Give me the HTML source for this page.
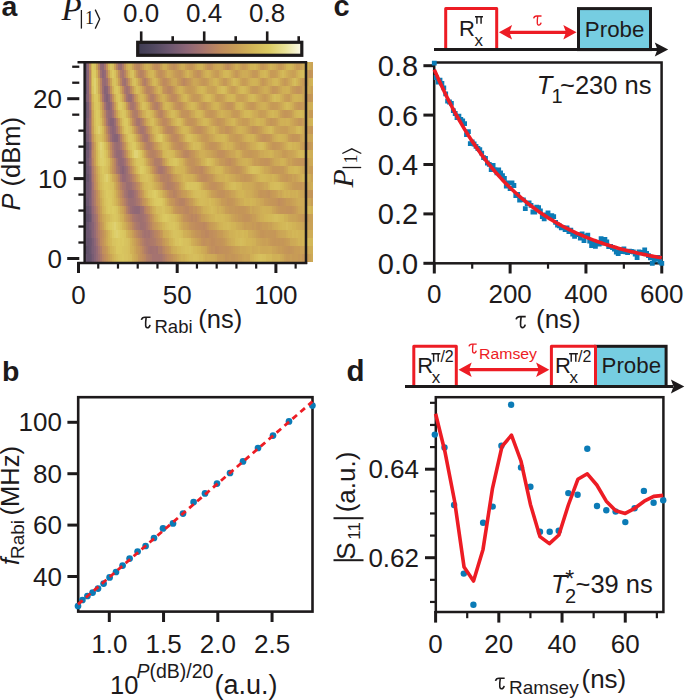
<!DOCTYPE html>
<html><head><meta charset="utf-8"><style>
html,body{margin:0;padding:0;background:#fff;}
svg{display:block;font-family:'Liberation Sans',sans-serif;fill:#1d1a1b;}
</style></head><body>
<svg width="685" height="700" viewBox="0 0 685 700" font-family="'Liberation Sans', sans-serif" fill="#1d1a1b">
<text x="1.50" y="15.50" font-size="28.5" font-weight="bold" >a</text>
<text x="61.50" y="19.80" font-size="33" font-family="'Liberation Serif', serif" font-style="italic" >P</text>
<line x1="81.40" y1="10.00" x2="81.40" y2="28.60" stroke="#1d1a1b" stroke-width="1.3" stroke-linecap="butt"/>
<text x="85.00" y="24.20" font-size="18" font-family="'Liberation Serif', serif" >1</text>
<polyline points="95.2,9.6 99.7,19.1 95.2,28.6" fill="none" stroke="#1d1a1b" stroke-width="1.3"/>
<text x="141.20" y="22.00" font-size="26" text-anchor="middle" >0.0</text>
<text x="204.20" y="22.00" font-size="26" text-anchor="middle" >0.4</text>
<text x="267.20" y="22.00" font-size="26" text-anchor="middle" >0.8</text>
<defs><linearGradient id="cbg" x1="0" x2="1" y1="0" y2="0"><stop offset="0.00" stop-color="#3e3b52"/><stop offset="0.10" stop-color="#524961"/><stop offset="0.20" stop-color="#6e5871"/><stop offset="0.30" stop-color="#8d6677"/><stop offset="0.40" stop-color="#a8756e"/><stop offset="0.50" stop-color="#bf8a5d"/><stop offset="0.60" stop-color="#c89d56"/><stop offset="0.70" stop-color="#d2b557"/><stop offset="0.80" stop-color="#dbca62"/><stop offset="0.90" stop-color="#e9e298"/><stop offset="1.00" stop-color="#fbf9ec"/></linearGradient></defs>
<rect x="137.7" y="42.3" width="164.1" height="13" fill="url(#cbg)" stroke="#1d1a1b" stroke-width="3.2"/>
<line x1="141.20" y1="31.40" x2="141.20" y2="41.00" stroke="#1d1a1b" stroke-width="2.6" stroke-linecap="butt"/>
<line x1="172.70" y1="36.20" x2="172.70" y2="41.00" stroke="#1d1a1b" stroke-width="2.6" stroke-linecap="butt"/>
<line x1="204.20" y1="31.40" x2="204.20" y2="41.00" stroke="#1d1a1b" stroke-width="2.6" stroke-linecap="butt"/>
<line x1="235.70" y1="36.20" x2="235.70" y2="41.00" stroke="#1d1a1b" stroke-width="2.6" stroke-linecap="butt"/>
<line x1="267.20" y1="31.40" x2="267.20" y2="41.00" stroke="#1d1a1b" stroke-width="2.6" stroke-linecap="butt"/>
<line x1="298.70" y1="36.20" x2="298.70" y2="41.00" stroke="#1d1a1b" stroke-width="2.6" stroke-linecap="butt"/>
<defs><filter id="hb" x="-2%" y="-2%" width="104%" height="104%"><feGaussianBlur stdDeviation="0.75"/></filter><clipPath id="hc"><rect x="84.6" y="62" width="228.80" height="201"/></clipPath></defs>
<g clip-path="url(#hc)"><g filter="url(#hb)" shape-rendering="crispEdges"><path d="M85 214h2v8h-2z" fill="#5d4f67"/><path d="M85 142h2v8h-2z" fill="#5e5068"/><path d="M85 246h2v8h-2z" fill="#5f5069"/><path d="M85 102h2v8h-2zM85 206h2v8h-2zM87 214h2v8h-2z" fill="#62516a"/><path d="M87 246h2v8h-2z" fill="#63526b"/><path d="M85 222h2v8h-2z" fill="#64536b"/><path d="M85 110h2v8h-2zM87 254h2v8h-2z" fill="#65536c"/><path d="M87 142h2v8h-2zM85 166h2v8h-2zM85 174h2v8h-2zM87 206h2v8h-2zM87 238h2v8h-2zM89 254h2v8h-2z" fill="#66546d"/><path d="M87 174h2v8h-2z" fill="#67546d"/><path d="M85 70h2v8h-2zM85 86h2v8h-2zM85 238h2v8h-2zM85 254h2v8h-2z" fill="#68556e"/><path d="M85 78h2v8h-2zM85 230h2v8h-2zM89 246h2v8h-2z" fill="#6a566e"/><path d="M85 62h2v8h-2zM85 158h2v8h-2zM85 182h2v8h-2zM85 198h2v8h-2zM89 214h2v8h-2zM87 222h2v8h-2z" fill="#6b566f"/><path d="M85 134h2v8h-2zM85 150h2v8h-2zM87 230h2v8h-2zM89 238h2v8h-2z" fill="#6c5770"/><path d="M85 118h2v8h-2zM91 254h1v8h-1z" fill="#6d5770"/><path d="M87 182h2v8h-2zM87 198h2v8h-2z" fill="#6e5871"/><path d="M85 190h2v8h-2zM89 230h2v8h-2z" fill="#6f5971"/><path d="M87 150h2v8h-2zM87 166h2v8h-2zM91 238h1v8h-1z" fill="#705971"/><path d="M85 126h2v8h-2zM87 190h2v8h-2zM89 206h2v8h-2z" fill="#725a72"/><path d="M91 246h1v8h-1z" fill="#735a72"/><path d="M85 94h2v8h-2zM87 158h2v8h-2z" fill="#745b72"/><path d="M89 222h2v8h-2z" fill="#775c73"/><path d="M92 254h2v8h-2z" fill="#785c73"/><path d="M87 102h2v8h-2zM87 134h2v8h-2zM89 174h2v8h-2zM89 182h2v8h-2zM91 214h1v8h-1z" fill="#795d73"/><path d="M87 110h2v8h-2zM89 190h2v8h-2zM91 230h1v8h-1z" fill="#7a5e73"/><path d="M92 246h2v8h-2z" fill="#7c5e74"/><path d="M92 238h2v8h-2z" fill="#7d5f74"/><path d="M87 126h2v8h-2zM89 166h2v8h-2zM89 198h2v8h-2z" fill="#7e5f74"/><path d="M91 222h1v8h-1z" fill="#7f6074"/><path d="M87 118h2v8h-2z" fill="#816075"/><path d="M106 94h2v8h-2zM89 142h2v8h-2z" fill="#826175"/><path d="M91 206h1v8h-1z" fill="#836275"/><path d="M104 86h2v8h-2zM110 118h2v8h-2zM114 134h2v8h-2zM94 254h2v8h-2z" fill="#866376"/><path d="M108 102h2v8h-2zM116 134h2v8h-2zM92 230h2v8h-2zM94 246h2v8h-2z" fill="#876376"/><path d="M87 70h2v8h-2zM87 86h2v8h-2zM87 94h2v8h-2zM112 118h2v8h-2zM89 150h2v8h-2zM92 222h2v8h-2z" fill="#886476"/><path d="M87 78h2v8h-2zM122 166h2v8h-2z" fill="#896476"/><path d="M106 86h2v8h-2zM91 182h1v8h-1zM91 198h1v8h-1z" fill="#8b6577"/><path d="M112 126h2v8h-2z" fill="#8c6577"/><path d="M102 70h2v8h-2zM104 94h2v8h-2zM106 102h2v8h-2zM112 134h2v8h-2zM89 158h2v8h-2zM91 190h1v8h-1zM94 238h2v8h-2z" fill="#8d6677"/><path d="M108 94h2v8h-2z" fill="#8e6777"/><path d="M102 62h2v8h-2zM136 206h2v8h-2zM92 214h2v8h-2z" fill="#8f6776"/><path d="M87 62h2v8h-2z" fill="#906876"/><path d="M120 166h2v8h-2zM134 206h2v8h-2zM138 206h2v8h-2z" fill="#916876"/><path d="M100 62h2v8h-2zM108 118h2v8h-2zM114 126h2v8h-2zM120 158h2v8h-2zM91 174h1v8h-1zM130 190h2v8h-2z" fill="#926975"/><path d="M110 110h2v8h-2zM89 134h2v8h-2zM118 150h2v8h-2zM124 166h2v8h-2zM128 190h2v8h-2zM96 254h2v8h-2z" fill="#936a75"/><path d="M104 78h2v8h-2zM108 110h2v8h-2zM110 126h2v8h-2zM116 150h2v8h-2zM132 206h2v8h-2zM94 230h2v8h-2zM96 246h2v8h-2z" fill="#956a74"/><path d="M104 70h2v8h-2zM110 102h2v8h-2zM118 158h2v8h-2zM122 158h2v8h-2z" fill="#966b74"/><path d="M120 150h2v8h-2zM91 166h1v8h-1zM122 174h2v8h-2zM124 174h2v8h-2zM132 190h2v8h-2zM92 206h2v8h-2z" fill="#976b74"/><path d="M116 142h2v8h-2z" fill="#986c73"/><path d="M102 78h2v8h-2zM128 94h2v8h-2zM130 94h2v8h-2zM94 222h2v8h-2z" fill="#996d73"/><path d="M89 110h2v8h-2zM114 118h2v8h-2zM89 126h2v8h-2zM118 134h2v8h-2z" fill="#9a6d73"/><path d="M120 62h2v8h-2zM118 142h2v8h-2zM126 182h2v8h-2zM128 182h2v8h-2zM130 198h2v8h-2zM132 198h2v8h-2zM130 206h2v8h-2z" fill="#9b6e72"/><path d="M102 86h2v8h-2z" fill="#9c6e72"/><path d="M106 110h2v8h-2zM114 142h2v8h-2zM126 174h2v8h-2zM128 198h2v8h-2zM140 206h2v8h-2zM94 214h2v8h-2z" fill="#9d6f72"/><path d="M118 62h2v8h-2zM124 78h2v8h-2zM89 118h2v8h-2zM110 134h2v8h-2zM118 166h2v8h-2zM126 166h2v8h-2zM140 214h2v8h-2zM140 222h2v8h-2zM96 238h2v8h-2z" fill="#9e7071"/><path d="M100 70h2v8h-2zM91 142h1v8h-1zM130 182h2v8h-2zM126 190h2v8h-2zM92 198h2v8h-2zM134 198h2v8h-2zM138 214h2v8h-2zM142 222h2v8h-2z" fill="#9f7071"/><path d="M106 78h2v8h-2zM126 86h2v8h-2zM114 150h2v8h-2zM92 190h2v8h-2zM98 254h2v8h-2z" fill="#a07171"/><path d="M91 158h1v8h-1zM124 158h2v8h-2zM134 190h2v8h-2zM142 214h2v8h-2zM144 222h2v8h-2zM144 230h2v8h-2zM148 230h2v8h-2zM150 246h2v8h-2z" fill="#a27170"/><path d="M89 102h2v8h-2zM112 110h2v8h-2zM142 206h2v8h-2zM136 214h2v8h-2zM152 246h2v8h-2zM156 246h2v8h-2z" fill="#a37270"/><path d="M122 78h2v8h-2zM126 94h2v8h-2zM116 158h2v8h-2zM120 174h2v8h-2zM128 174h2v8h-2zM146 230h2v8h-2z" fill="#a4736f"/><path d="M104 102h2v8h-2zM138 118h2v8h-2zM122 150h2v8h-2zM148 246h2v8h-2zM154 246h2v8h-2zM152 254h2v8h-2zM154 254h2v8h-2zM156 254h2v8h-2zM158 254h2v8h-2z" fill="#a5736f"/><path d="M108 86h2v8h-2zM106 118h2v8h-2zM142 126h2v8h-2zM120 142h2v8h-2zM91 150h1v8h-1zM92 182h2v8h-2zM124 182h2v8h-2zM124 190h2v8h-2zM134 214h2v8h-2zM144 214h2v8h-2zM138 222h2v8h-2zM98 246h2v8h-2zM160 254h2v8h-2z" fill="#a6746f"/><path d="M132 102h2v8h-2zM136 118h2v8h-2zM108 126h2v8h-2zM116 126h2v8h-2zM140 126h2v8h-2zM136 198h2v8h-2zM94 206h2v8h-2zM96 230h2v8h-2zM142 230h2v8h-2z" fill="#a7746e"/><path d="M122 70h2v8h-2zM102 94h2v8h-2zM160 166h2v8h-2zM128 206h2v8h-2zM146 238h2v8h-2z" fill="#a8756e"/><path d="M104 62h2v8h-2zM128 86h2v8h-2zM130 102h2v8h-2zM144 134h2v8h-2zM116 166h2v8h-2zM162 166h1v8h-1zM126 198h2v8h-2zM96 222h2v8h-2zM148 238h2v8h-2z" fill="#a9766d"/><path d="M124 86h2v8h-2zM110 94h2v8h-2zM146 134h2v8h-2zM158 166h2v8h-2zM132 182h2v8h-2zM136 222h2v8h-2zM146 222h2v8h-2zM150 230h2v8h-2z" fill="#aa776d"/><path d="M112 142h2v8h-2zM122 182h2v8h-2zM136 190h2v8h-2zM150 254h2v8h-2zM162 254h1v8h-1z" fill="#ab786c"/><path d="M132 94h2v8h-2zM96 214h2v8h-2zM132 214h2v8h-2zM144 238h2v8h-2zM150 238h2v8h-2zM146 246h2v8h-2zM100 254h2v8h-2z" fill="#ac786b"/><path d="M92 174h2v8h-2zM130 174h2v8h-2zM138 198h2v8h-2zM152 238h2v8h-2z" fill="#ad796b"/><path d="M120 70h2v8h-2zM89 94h2v8h-2zM144 126h2v8h-2zM146 214h2v8h-2z" fill="#ae7a6a"/><path d="M134 110h2v8h-2zM140 118h2v8h-2zM163 166h2v8h-2zM140 230h2v8h-2zM98 238h2v8h-2zM158 246h2v8h-2zM148 254h2v8h-2z" fill="#ae7b69"/><path d="M122 62h2v8h-2zM126 78h2v8h-2zM138 126h2v8h-2zM142 134h2v8h-2zM128 166h2v8h-2zM94 198h2v8h-2zM152 230h2v8h-2zM154 238h2v8h-2zM160 246h2v8h-2zM163 254h2v8h-2z" fill="#af7c69"/><path d="M91 134h1v8h-1zM148 142h2v8h-2zM112 150h2v8h-2zM156 158h2v8h-2zM92 166h2v8h-2zM134 222h2v8h-2z" fill="#b07d68"/><path d="M144 78h2v8h-2zM112 102h2v8h-2zM134 102h2v8h-2zM136 110h2v8h-2zM154 158h2v8h-2zM158 158h2v8h-2zM134 182h2v8h-2zM94 190h2v8h-2z" fill="#b17d67"/><path d="M156 102h2v8h-2zM126 158h2v8h-2zM167 182h2v8h-2zM148 222h2v8h-2zM142 238h2v8h-2zM100 246h2v8h-2zM144 246h2v8h-2zM146 254h2v8h-2z" fill="#b27e67"/><path d="M98 62h2v8h-2zM152 94h2v8h-2zM108 134h2v8h-2zM120 134h2v8h-2zM146 142h2v8h-2zM156 166h2v8h-2zM169 182h2v8h-2zM98 230h2v8h-2z" fill="#b37f66"/><path d="M150 94h2v8h-2zM132 110h2v8h-2zM116 118h2v8h-2zM134 118h2v8h-2zM150 142h2v8h-2zM163 174h2v8h-2zM167 174h2v8h-2zM122 190h2v8h-2zM124 198h2v8h-2zM126 206h2v8h-2zM144 206h2v8h-2zM138 230h2v8h-2z" fill="#b48065"/><path d="M154 102h2v8h-2zM124 150h2v8h-2zM152 150h2v8h-2zM171 182h2v8h-2z" fill="#b58164"/><path d="M116 62h2v8h-2zM106 70h2v8h-2zM124 70h2v8h-2zM140 70h2v8h-2zM160 158h2v8h-2zM165 166h2v8h-2zM162 174h1v8h-1zM165 174h2v8h-2zM120 182h2v8h-2zM165 182h2v8h-2zM140 198h2v8h-2zM181 198h2v8h-2zM130 214h2v8h-2zM156 238h2v8h-2zM162 246h1v8h-1z" fill="#b68264"/><path d="M89 86h2v8h-2zM128 102h2v8h-2zM150 150h2v8h-2zM118 174h2v8h-2zM173 190h2v8h-2zM179 198h2v8h-2zM96 206h2v8h-2zM148 214h2v8h-2zM154 230h2v8h-2zM165 254h2v8h-2z" fill="#b78263"/><path d="M89 70h2v8h-2zM142 78h2v8h-2zM160 110h2v8h-2zM148 134h2v8h-2zM122 142h2v8h-2zM154 150h2v8h-2zM160 174h2v8h-2zM183 198h2v8h-2z" fill="#b88362"/><path d="M89 78h2v8h-2zM100 78h2v8h-2zM148 86h2v8h-2zM104 110h2v8h-2zM114 158h2v8h-2zM132 174h2v8h-2zM169 174h2v8h-2zM173 182h2v8h-2zM138 190h2v8h-2zM102 254h2v8h-2z" fill="#b98462"/><path d="M138 62h2v8h-2zM142 70h2v8h-2zM120 78h2v8h-2zM146 86h2v8h-2zM142 118h2v8h-2zM175 190h2v8h-2zM98 222h2v8h-2zM132 222h2v8h-2zM150 222h2v8h-2zM140 238h2v8h-2z" fill="#b98561"/><path d="M136 62h2v8h-2zM169 86h2v8h-2zM158 102h2v8h-2zM162 110h1v8h-1zM106 126h2v8h-2zM118 126h2v8h-2zM167 126h2v8h-2zM169 126h2v8h-2zM171 126h2v8h-2zM185 150h2v8h-2zM92 158h2v8h-2zM114 166h2v8h-2zM191 214h2v8h-2zM156 230h2v8h-2zM158 238h2v8h-2zM142 246h2v8h-2z" fill="#ba8660"/><path d="M146 78h2v8h-2zM183 78h2v8h-2zM100 86h2v8h-2zM124 94h2v8h-2zM114 110h2v8h-2zM91 126h1v8h-1zM146 126h2v8h-2zM140 134h2v8h-2zM144 142h2v8h-2zM148 150h2v8h-2zM187 150h2v8h-2zM152 158h2v8h-2zM136 182h2v8h-2zM177 198h2v8h-2zM185 206h2v8h-2zM187 206h2v8h-2zM195 214h2v8h-2zM136 230h2v8h-2zM163 246h2v8h-2zM144 254h2v8h-2z" fill="#bb8760"/><path d="M130 86h2v8h-2zM167 86h2v8h-2zM154 94h2v8h-2zM152 102h2v8h-2zM158 110h2v8h-2zM91 118h1v8h-1zM136 126h2v8h-2zM92 142h2v8h-2zM152 142h2v8h-2zM163 182h2v8h-2zM203 222h2v8h-2zM205 230h2v8h-2z" fill="#bc875f"/><path d="M138 70h2v8h-2zM108 78h2v8h-2zM150 86h2v8h-2zM91 110h1v8h-1zM163 118h2v8h-2zM175 134h2v8h-2zM110 142h2v8h-2zM183 150h2v8h-2zM130 166h2v8h-2zM154 166h2v8h-2zM201 166h2v8h-2zM171 190h2v8h-2zM100 230h2v8h-2zM207 230h2v8h-2zM167 254h2v8h-2z" fill="#bd885e"/><path d="M163 78h2v8h-2zM148 94h2v8h-2zM165 118h2v8h-2zM173 134h2v8h-2zM179 142h2v8h-2zM156 150h2v8h-2zM199 166h2v8h-2zM94 182h2v8h-2zM169 190h2v8h-2zM122 198h2v8h-2zM175 198h2v8h-2zM146 206h2v8h-2zM183 206h2v8h-2zM189 214h2v8h-2zM193 214h2v8h-2zM199 222h2v8h-2zM201 222h2v8h-2zM100 238h2v8h-2zM160 238h2v8h-2z" fill="#be895e"/><path d="M173 94h2v8h-2zM162 118h1v8h-1zM94 174h2v8h-2zM185 198h2v8h-2zM128 214h2v8h-2zM197 222h2v8h-2z" fill="#bf8a5d"/><path d="M156 62h2v8h-2zM165 78h2v8h-2zM122 86h2v8h-2zM171 86h2v8h-2zM171 94h2v8h-2zM132 118h2v8h-2zM165 126h2v8h-2zM181 142h2v8h-2zM92 150h2v8h-2zM195 166h2v8h-2zM203 174h2v8h-2zM205 174h2v8h-2zM175 182h2v8h-2zM120 190h2v8h-2zM177 190h2v8h-2zM195 222h2v8h-2zM205 222h2v8h-2zM201 230h2v8h-2zM203 230h2v8h-2zM215 246h2v8h-2z" fill="#bf8b5d"/><path d="M185 78h2v8h-2zM175 94h2v8h-2zM138 110h2v8h-2zM104 118h2v8h-2zM177 134h2v8h-2zM177 142h2v8h-2zM197 166h2v8h-2zM171 174h2v8h-2zM201 174h2v8h-2zM189 206h2v8h-2zM169 254h2v8h-2z" fill="#c08c5c"/><path d="M136 102h2v8h-2zM179 102h2v8h-2zM128 158h2v8h-2zM229 158h2v8h-2zM167 166h2v8h-2zM96 190h2v8h-2zM96 198h2v8h-2zM191 206h2v8h-2zM98 214h2v8h-2zM150 214h2v8h-2zM187 214h2v8h-2zM158 230h2v8h-2zM211 238h2v8h-2zM217 246h2v8h-2zM104 254h2v8h-2zM142 254h2v8h-2z" fill="#c08c5c"/><path d="M89 62h2v8h-2zM227 62h2v8h-2zM181 78h2v8h-2zM134 94h2v8h-2zM102 102h2v8h-2zM173 126h2v8h-2zM171 134h2v8h-2zM189 150h2v8h-2zM278 198h2v8h-2zM179 206h2v8h-2zM181 206h2v8h-2zM197 214h2v8h-2zM209 230h2v8h-2zM211 230h2v8h-2zM213 238h2v8h-2zM102 246h2v8h-2z" fill="#c08d5c"/><path d="M134 62h2v8h-2zM154 62h2v8h-2zM173 62h2v8h-2zM98 70h2v8h-2zM160 70h2v8h-2zM162 78h1v8h-1zM165 86h2v8h-2zM199 126h2v8h-2zM110 150h2v8h-2zM150 158h2v8h-2zM134 174h2v8h-2zM193 222h2v8h-2zM138 238h2v8h-2z" fill="#c18e5c"/><path d="M118 70h2v8h-2zM130 110h2v8h-2zM175 142h2v8h-2zM162 158h1v8h-1zM94 166h2v8h-2zM193 166h2v8h-2zM118 182h2v8h-2zM138 182h2v8h-2zM142 198h2v8h-2zM165 246h2v8h-2zM211 246h2v8h-2zM219 246h2v8h-2z" fill="#c18f5b"/><path d="M197 70h2v8h-2zM177 102h2v8h-2zM197 126h2v8h-2zM219 150h2v8h-2zM221 150h2v8h-2zM227 158h2v8h-2zM158 174h2v8h-2zM207 174h2v8h-2zM213 182h2v8h-2zM140 190h2v8h-2zM179 190h2v8h-2zM187 198h2v8h-2zM134 230h2v8h-2zM203 238h2v8h-2zM209 238h2v8h-2zM140 246h2v8h-2zM221 246h2v8h-2z" fill="#c28f5b"/><path d="M158 62h2v8h-2zM209 62h2v8h-2zM144 70h2v8h-2zM128 78h2v8h-2zM110 86h2v8h-2zM144 86h2v8h-2zM152 86h2v8h-2zM163 110h2v8h-2zM181 150h2v8h-2zM191 158h2v8h-2zM203 166h2v8h-2zM199 174h2v8h-2zM162 182h1v8h-1zM177 182h2v8h-2zM211 182h2v8h-2zM221 190h2v8h-2zM280 198h2v8h-2zM185 214h2v8h-2zM152 222h2v8h-2zM191 222h2v8h-2zM213 230h2v8h-2zM215 238h2v8h-2zM213 246h2v8h-2z" fill="#c2905b"/><path d="M140 62h2v8h-2zM158 70h2v8h-2zM112 94h2v8h-2zM181 102h2v8h-2zM167 118h2v8h-2zM252 126h2v8h-2zM264 134h2v8h-2zM146 150h2v8h-2zM217 150h2v8h-2zM223 150h2v8h-2zM189 158h2v8h-2zM193 158h2v8h-2zM225 158h2v8h-2zM191 166h2v8h-2zM236 166h2v8h-2zM215 182h2v8h-2zM219 190h2v8h-2zM223 190h2v8h-2zM268 190h2v8h-2zM148 206h2v8h-2zM177 206h2v8h-2zM290 206h2v8h-2zM130 222h2v8h-2zM102 230h2v8h-2zM199 230h2v8h-2zM205 238h2v8h-2zM223 246h2v8h-2zM225 246h2v8h-2zM171 254h2v8h-2z" fill="#c2915a"/><path d="M169 94h2v8h-2zM91 102h1v8h-1zM203 102h2v8h-2zM156 110h2v8h-2zM183 110h2v8h-2zM185 110h2v8h-2zM160 118h2v8h-2zM189 118h2v8h-2zM191 118h2v8h-2zM195 126h2v8h-2zM201 126h2v8h-2zM225 126h2v8h-2zM254 126h2v8h-2zM106 134h2v8h-2zM262 134h2v8h-2zM124 142h2v8h-2zM211 142h2v8h-2zM231 158h2v8h-2zM266 158h2v8h-2zM167 190h2v8h-2zM173 198h2v8h-2zM276 198h2v8h-2zM282 198h2v8h-2zM286 206h2v8h-2zM288 206h2v8h-2zM246 214h2v8h-2zM207 222h2v8h-2zM197 230h2v8h-2zM162 238h1v8h-1zM207 238h2v8h-2zM219 238h2v8h-2zM104 246h2v8h-2zM140 254h2v8h-2z" fill="#c3925a"/><path d="M162 70h1v8h-1zM179 70h2v8h-2zM167 78h2v8h-2zM187 78h2v8h-2zM163 86h2v8h-2zM298 86h2v8h-2zM160 102h2v8h-2zM187 110h2v8h-2zM227 126h2v8h-2zM183 142h2v8h-2zM158 150h2v8h-2zM191 150h2v8h-2zM264 158h2v8h-2zM112 166h2v8h-2zM235 166h1v8h-1zM116 174h2v8h-2zM209 182h2v8h-2zM98 206h2v8h-2zM124 206h2v8h-2zM195 206h2v8h-2zM199 214h2v8h-2zM244 214h2v8h-2zM100 222h2v8h-2zM215 230h2v8h-2zM102 238h2v8h-2zM217 238h2v8h-2zM227 246h2v8h-2z" fill="#c3925a"/><path d="M106 62h2v8h-2zM171 62h2v8h-2zM175 62h2v8h-2zM207 62h2v8h-2zM225 62h2v8h-2zM229 62h2v8h-2zM199 70h2v8h-2zM309 70h2v8h-2zM296 86h2v8h-2zM175 102h2v8h-2zM227 102h2v8h-2zM229 102h2v8h-2zM181 110h2v8h-2zM217 118h2v8h-2zM150 134h2v8h-2zM209 142h2v8h-2zM213 142h2v8h-2zM307 142h2v8h-2zM126 150h2v8h-2zM112 158h2v8h-2zM238 166h2v8h-2zM209 174h2v8h-2zM217 190h2v8h-2zM266 190h2v8h-2zM227 198h2v8h-2zM193 206h2v8h-2zM126 214h2v8h-2zM183 214h2v8h-2zM248 214h2v8h-2zM189 222h2v8h-2zM201 238h2v8h-2zM209 246h2v8h-2zM288 246h2v8h-2zM225 254h2v8h-2z" fill="#c3935a"/><path d="M124 62h2v8h-2zM189 62h2v8h-2zM140 78h2v8h-2zM100 94h2v8h-2zM156 94h2v8h-2zM284 110h2v8h-2zM187 118h2v8h-2zM256 126h2v8h-2zM266 134h2v8h-2zM292 134h2v8h-2zM154 142h2v8h-2zM173 142h2v8h-2zM306 142h1v8h-1zM260 158h2v8h-2zM262 158h2v8h-2zM268 158h2v8h-2zM302 158h2v8h-2zM152 166h2v8h-2zM233 166h2v8h-2zM260 190h2v8h-2zM120 198h2v8h-2zM229 198h2v8h-2zM274 198h2v8h-2zM238 206h2v8h-2zM282 206h2v8h-2zM284 206h2v8h-2zM292 206h2v8h-2zM242 214h2v8h-2zM262 230h2v8h-2zM221 238h2v8h-2zM167 246h2v8h-2zM106 254h2v8h-2z" fill="#c49459"/><path d="M211 62h2v8h-2zM195 70h2v8h-2zM148 78h2v8h-2zM160 78h2v8h-2zM203 78h2v8h-2zM272 86h2v8h-2zM309 94h2v8h-2zM211 110h2v8h-2zM193 118h2v8h-2zM219 118h2v8h-2zM270 118h2v8h-2zM148 126h2v8h-2zM122 134h2v8h-2zM268 134h2v8h-2zM294 134h2v8h-2zM296 134h2v8h-2zM187 158h2v8h-2zM233 158h2v8h-2zM298 158h2v8h-2zM300 158h2v8h-2zM211 174h2v8h-2zM217 182h2v8h-2zM262 190h2v8h-2zM311 190h2v8h-2zM171 198h2v8h-2zM272 198h2v8h-2zM284 198h2v8h-2zM240 206h2v8h-2zM278 238h2v8h-2zM229 246h2v8h-2zM286 246h2v8h-2zM227 254h2v8h-2z" fill="#c49559"/><path d="M191 62h2v8h-2zM177 70h2v8h-2zM179 78h2v8h-2zM150 102h2v8h-2zM231 102h2v8h-2zM298 102h2v8h-2zM209 110h2v8h-2zM286 110h2v8h-2zM118 118h2v8h-2zM144 118h2v8h-2zM298 118h2v8h-2zM163 126h2v8h-2zM142 142h2v8h-2zM215 142h2v8h-2zM240 142h2v8h-2zM272 142h2v8h-2zM274 142h2v8h-2zM304 158h2v8h-2zM169 166h2v8h-2zM244 174h2v8h-2zM264 190h2v8h-2zM231 198h2v8h-2zM175 206h2v8h-2zM235 206h1v8h-1zM242 206h2v8h-2zM280 206h2v8h-2zM258 222h2v8h-2zM195 230h2v8h-2zM260 230h2v8h-2zM274 238h2v8h-2zM290 246h2v8h-2zM231 254h2v8h-2zM233 254h2v8h-2z" fill="#c49559"/><path d="M262 62h2v8h-2zM163 70h2v8h-2zM262 78h2v8h-2zM173 86h2v8h-2zM274 86h2v8h-2zM307 94h2v8h-2zM252 102h2v8h-2zM300 118h2v8h-2zM92 134h2v8h-2zM138 134h2v8h-2zM169 134h2v8h-2zM179 134h2v8h-2zM260 134h2v8h-2zM193 150h2v8h-2zM296 158h2v8h-2zM231 166h2v8h-2zM272 166h2v8h-2zM274 166h2v8h-2zM276 166h2v8h-2zM278 166h2v8h-2zM286 174h2v8h-2zM181 190h2v8h-2zM225 190h2v8h-2zM270 198h2v8h-2zM236 206h2v8h-2zM244 206h2v8h-2zM256 222h2v8h-2zM160 230h2v8h-2zM264 230h2v8h-2zM274 230h2v8h-2zM136 238h2v8h-2zM163 238h2v8h-2zM272 238h2v8h-2zM276 238h2v8h-2zM282 238h2v8h-2zM284 246h2v8h-2zM302 254h2v8h-2z" fill="#c59659"/><path d="M152 62h2v8h-2zM169 62h2v8h-2zM136 70h2v8h-2zM236 70h2v8h-2zM254 70h2v8h-2zM311 70h2v8h-2zM189 78h2v8h-2zM223 78h2v8h-2zM300 86h2v8h-2zM193 94h2v8h-2zM126 102h2v8h-2zM201 102h2v8h-2zM205 102h2v8h-2zM225 102h2v8h-2zM250 102h2v8h-2zM175 126h2v8h-2zM193 126h2v8h-2zM229 126h2v8h-2zM311 126h2v8h-2zM205 134h2v8h-2zM242 142h2v8h-2zM244 142h2v8h-2zM276 142h2v8h-2zM225 150h2v8h-2zM250 150h2v8h-2zM163 158h2v8h-2zM195 158h2v8h-2zM223 158h2v8h-2zM189 166h2v8h-2zM205 166h2v8h-2zM240 166h2v8h-2zM156 174h2v8h-2zM173 174h2v8h-2zM197 174h2v8h-2zM246 174h2v8h-2zM300 182h2v8h-2zM227 190h2v8h-2zM270 190h2v8h-2zM309 190h2v8h-2zM98 198h2v8h-2zM144 198h2v8h-2zM278 206h2v8h-2zM250 214h2v8h-2zM302 214h2v8h-2zM154 222h2v8h-2zM268 230h2v8h-2zM270 230h2v8h-2zM272 230h2v8h-2zM223 238h2v8h-2zM280 238h2v8h-2zM138 246h2v8h-2zM292 246h2v8h-2zM138 254h2v8h-2zM229 254h2v8h-2zM304 254h2v8h-2z" fill="#c59758"/><path d="M175 70h2v8h-2zM181 70h2v8h-2zM235 70h1v8h-1zM252 70h2v8h-2zM201 78h2v8h-2zM205 78h2v8h-2zM225 78h2v8h-2zM284 78h2v8h-2zM252 86h2v8h-2zM254 86h2v8h-2zM294 86h2v8h-2zM177 94h2v8h-2zM195 94h2v8h-2zM197 94h2v8h-2zM140 110h2v8h-2zM282 110h2v8h-2zM288 110h2v8h-2zM272 118h2v8h-2zM134 126h2v8h-2zM221 126h2v8h-2zM298 134h2v8h-2zM185 142h2v8h-2zM309 142h2v8h-2zM215 150h2v8h-2zM248 150h2v8h-2zM221 158h2v8h-2zM294 158h2v8h-2zM280 166h2v8h-2zM282 166h2v8h-2zM160 182h2v8h-2zM219 182h2v8h-2zM296 182h2v8h-2zM118 190h2v8h-2zM258 190h2v8h-2zM307 190h2v8h-2zM189 198h2v8h-2zM225 198h2v8h-2zM268 198h2v8h-2zM229 206h2v8h-2zM231 206h2v8h-2zM233 206h2v8h-2zM238 214h2v8h-2zM240 214h2v8h-2zM217 230h2v8h-2zM266 230h2v8h-2zM235 254h1v8h-1zM306 254h1v8h-1z" fill="#c59858"/><path d="M187 62h2v8h-2zM242 62h2v8h-2zM126 70h2v8h-2zM304 78h2v8h-2zM306 78h1v8h-1zM256 86h2v8h-2zM146 94h2v8h-2zM306 94h1v8h-1zM114 102h2v8h-2zM300 102h2v8h-2zM207 110h2v8h-2zM213 110h2v8h-2zM233 110h2v8h-2zM236 110h2v8h-2zM215 118h2v8h-2zM221 118h2v8h-2zM203 126h2v8h-2zM250 126h2v8h-2zM203 134h2v8h-2zM236 134h2v8h-2zM290 134h2v8h-2zM278 142h2v8h-2zM179 150h2v8h-2zM132 166h2v8h-2zM242 174h2v8h-2zM248 174h2v8h-2zM284 174h2v8h-2zM207 182h2v8h-2zM298 182h2v8h-2zM215 190h2v8h-2zM233 198h2v8h-2zM294 206h2v8h-2zM152 214h2v8h-2zM128 222h2v8h-2zM252 222h2v8h-2zM260 222h2v8h-2zM270 238h2v8h-2zM231 246h2v8h-2zM173 254h2v8h-2zM236 254h2v8h-2zM298 254h2v8h-2z" fill="#c69858"/><path d="M260 62h2v8h-2zM280 62h2v8h-2zM193 70h2v8h-2zM256 70h2v8h-2zM189 86h2v8h-2zM276 86h2v8h-2zM91 94h1v8h-1zM217 94h2v8h-2zM264 94h2v8h-2zM311 94h2v8h-2zM272 102h2v8h-2zM296 102h2v8h-2zM102 110h2v8h-2zM235 110h1v8h-1zM169 118h2v8h-2zM274 118h2v8h-2zM223 126h2v8h-2zM235 134h1v8h-1zM207 142h2v8h-2zM304 142h2v8h-2zM252 150h2v8h-2zM284 150h2v8h-2zM235 158h1v8h-1zM258 158h2v8h-2zM240 174h2v8h-2zM96 182h2v8h-2zM294 182h2v8h-2zM100 214h2v8h-2zM209 222h2v8h-2zM284 238h2v8h-2zM207 246h2v8h-2zM282 246h2v8h-2zM223 254h2v8h-2z" fill="#c69957"/><path d="M244 62h2v8h-2zM278 62h2v8h-2zM296 62h2v8h-2zM298 62h2v8h-2zM156 70h2v8h-2zM217 70h2v8h-2zM270 70h2v8h-2zM272 70h2v8h-2zM169 78h2v8h-2zM288 94h2v8h-2zM274 102h2v8h-2zM302 102h2v8h-2zM195 118h2v8h-2zM242 118h2v8h-2zM120 126h2v8h-2zM258 126h2v8h-2zM309 126h2v8h-2zM207 134h2v8h-2zM270 134h2v8h-2zM160 150h2v8h-2zM246 150h2v8h-2zM282 150h2v8h-2zM148 158h2v8h-2zM282 174h2v8h-2zM221 182h2v8h-2zM302 182h2v8h-2zM272 190h2v8h-2zM306 190h1v8h-1zM223 198h2v8h-2zM286 198h2v8h-2zM288 198h2v8h-2zM197 206h2v8h-2zM246 206h2v8h-2zM300 214h2v8h-2zM304 214h2v8h-2zM187 222h2v8h-2zM193 230h2v8h-2zM219 230h2v8h-2zM258 230h2v8h-2zM199 238h2v8h-2zM292 254h2v8h-2z" fill="#c79a57"/><path d="M231 62h2v8h-2zM274 70h2v8h-2zM307 70h2v8h-2zM242 78h2v8h-2zM244 78h2v8h-2zM264 78h2v8h-2zM276 102h2v8h-2zM165 110h2v8h-2zM189 110h2v8h-2zM185 118h2v8h-2zM246 118h2v8h-2zM219 126h2v8h-2zM231 126h2v8h-2zM233 134h2v8h-2zM217 142h2v8h-2zM238 142h2v8h-2zM270 142h2v8h-2zM197 158h2v8h-2zM219 158h2v8h-2zM270 158h2v8h-2zM292 158h2v8h-2zM229 166h2v8h-2zM288 174h2v8h-2zM183 190h2v8h-2zM169 198h2v8h-2zM266 198h2v8h-2zM276 206h2v8h-2zM201 214h2v8h-2zM306 214h1v8h-1zM254 222h2v8h-2zM162 230h1v8h-1zM221 230h2v8h-2zM106 246h2v8h-2zM136 246h2v8h-2zM169 246h2v8h-2zM278 246h2v8h-2zM294 246h2v8h-2zM221 254h2v8h-2zM288 254h2v8h-2zM296 254h2v8h-2z" fill="#c79b57"/><path d="M215 70h2v8h-2zM177 78h2v8h-2zM302 78h2v8h-2zM132 86h2v8h-2zM187 86h2v8h-2zM191 86h2v8h-2zM292 86h2v8h-2zM167 94h2v8h-2zM219 94h2v8h-2zM183 102h2v8h-2zM248 102h2v8h-2zM254 102h2v8h-2zM270 102h2v8h-2zM260 110h2v8h-2zM290 110h2v8h-2zM311 110h2v8h-2zM158 118h2v8h-2zM223 118h2v8h-2zM244 118h2v8h-2zM268 118h2v8h-2zM296 118h2v8h-2zM201 134h2v8h-2zM238 134h2v8h-2zM258 134h2v8h-2zM205 142h2v8h-2zM213 150h2v8h-2zM227 150h2v8h-2zM244 150h2v8h-2zM254 150h2v8h-2zM254 158h2v8h-2zM250 174h2v8h-2zM290 174h2v8h-2zM292 182h2v8h-2zM191 198h2v8h-2zM221 198h2v8h-2zM307 214h2v8h-2zM104 230h2v8h-2zM132 230h2v8h-2zM219 254h2v8h-2zM286 254h2v8h-2zM294 254h2v8h-2z" fill="#c79b57"/><path d="M177 62h2v8h-2zM193 62h2v8h-2zM205 62h2v8h-2zM264 62h2v8h-2zM199 78h2v8h-2zM286 78h2v8h-2zM231 86h2v8h-2zM233 86h2v8h-2zM191 94h2v8h-2zM262 94h2v8h-2zM286 94h2v8h-2zM173 102h2v8h-2zM199 102h2v8h-2zM304 102h2v8h-2zM205 110h2v8h-2zM309 110h2v8h-2zM213 118h2v8h-2zM302 118h2v8h-2zM284 126h2v8h-2zM307 126h2v8h-2zM288 134h2v8h-2zM108 142h2v8h-2zM156 142h2v8h-2zM280 142h2v8h-2zM302 142h2v8h-2zM94 150h2v8h-2zM256 150h2v8h-2zM286 150h2v8h-2zM94 158h2v8h-2zM256 158h2v8h-2zM270 166h2v8h-2zM311 166h2v8h-2zM175 174h2v8h-2zM116 182h2v8h-2zM205 182h2v8h-2zM98 190h2v8h-2zM142 190h2v8h-2zM213 190h2v8h-2zM229 190h2v8h-2zM274 190h2v8h-2zM264 198h2v8h-2zM173 206h2v8h-2zM227 206h2v8h-2zM235 214h1v8h-1zM252 214h2v8h-2zM298 214h2v8h-2zM211 222h2v8h-2zM244 222h2v8h-2zM250 222h2v8h-2zM262 222h2v8h-2zM264 222h2v8h-2zM268 238h2v8h-2zM286 238h2v8h-2zM233 246h2v8h-2zM280 246h2v8h-2zM296 246h2v8h-2zM298 246h2v8h-2zM217 254h2v8h-2zM238 254h2v8h-2zM300 254h2v8h-2z" fill="#c89c56"/><path d="M223 62h2v8h-2zM118 78h2v8h-2zM260 78h2v8h-2zM250 86h2v8h-2zM270 86h2v8h-2zM221 94h2v8h-2zM223 102h2v8h-2zM231 110h2v8h-2zM238 110h2v8h-2zM262 110h2v8h-2zM282 126h2v8h-2zM286 126h2v8h-2zM181 134h2v8h-2zM171 142h2v8h-2zM236 142h2v8h-2zM311 142h2v8h-2zM130 158h2v8h-2zM185 158h2v8h-2zM280 174h2v8h-2zM179 182h2v8h-2zM258 182h2v8h-2zM290 198h2v8h-2zM150 206h2v8h-2zM124 214h2v8h-2zM181 214h2v8h-2zM203 214h2v8h-2zM236 214h2v8h-2zM254 214h2v8h-2zM156 222h2v8h-2zM248 222h2v8h-2zM266 222h2v8h-2zM276 230h2v8h-2zM104 238h2v8h-2zM225 238h2v8h-2zM108 254h2v8h-2zM175 254h2v8h-2zM307 254h2v8h-2z" fill="#c89d56"/><path d="M142 62h2v8h-2zM160 62h2v8h-2zM240 62h2v8h-2zM173 70h2v8h-2zM201 70h2v8h-2zM207 78h2v8h-2zM282 78h2v8h-2zM162 86h1v8h-1zM193 86h2v8h-2zM302 86h2v8h-2zM136 94h2v8h-2zM199 94h2v8h-2zM215 94h2v8h-2zM266 94h2v8h-2zM207 102h2v8h-2zM233 102h2v8h-2zM294 102h2v8h-2zM179 110h2v8h-2zM215 110h2v8h-2zM264 110h2v8h-2zM280 110h2v8h-2zM266 118h2v8h-2zM294 118h2v8h-2zM205 126h2v8h-2zM248 126h2v8h-2zM260 126h2v8h-2zM280 126h2v8h-2zM306 126h1v8h-1zM231 134h2v8h-2zM240 134h2v8h-2zM246 142h2v8h-2zM306 158h1v8h-1zM187 166h2v8h-2zM242 166h2v8h-2zM309 166h2v8h-2zM96 174h2v8h-2zM136 174h2v8h-2zM213 174h2v8h-2zM140 182h2v8h-2zM256 182h2v8h-2zM165 190h2v8h-2zM185 190h2v8h-2zM304 190h2v8h-2zM235 198h1v8h-1zM199 206h2v8h-2zM225 206h2v8h-2zM248 206h2v8h-2zM102 222h2v8h-2zM246 222h2v8h-2zM191 230h2v8h-2zM256 230h2v8h-2zM240 254h2v8h-2zM290 254h2v8h-2z" fill="#c89e56"/><path d="M185 62h2v8h-2zM282 62h2v8h-2zM233 70h2v8h-2zM238 70h2v8h-2zM292 70h2v8h-2zM191 78h2v8h-2zM142 86h2v8h-2zM154 86h2v8h-2zM258 86h2v8h-2zM238 94h2v8h-2zM240 94h2v8h-2zM242 94h2v8h-2zM284 94h2v8h-2zM304 94h2v8h-2zM138 102h2v8h-2zM154 110h2v8h-2zM276 118h2v8h-2zM92 126h2v8h-2zM191 126h2v8h-2zM229 134h2v8h-2zM94 142h2v8h-2zM177 150h2v8h-2zM242 150h2v8h-2zM288 158h2v8h-2zM207 166h2v8h-2zM284 166h2v8h-2zM238 174h2v8h-2zM294 174h2v8h-2zM260 182h2v8h-2zM304 182h2v8h-2zM211 190h2v8h-2zM311 198h2v8h-2zM296 206h2v8h-2zM185 222h2v8h-2zM165 238h2v8h-2zM197 238h2v8h-2zM264 238h2v8h-2zM288 238h2v8h-2zM235 246h1v8h-1zM276 246h2v8h-2zM284 254h2v8h-2z" fill="#c99f56"/><path d="M246 62h2v8h-2zM213 70h2v8h-2zM250 70h2v8h-2zM276 70h2v8h-2zM221 78h2v8h-2zM246 78h2v8h-2zM185 86h2v8h-2zM211 86h2v8h-2zM213 86h2v8h-2zM158 94h2v8h-2zM162 102h1v8h-1zM246 102h2v8h-2zM116 110h2v8h-2zM258 110h2v8h-2zM240 118h2v8h-2zM104 126h2v8h-2zM152 134h2v8h-2zM140 142h2v8h-2zM219 142h2v8h-2zM195 150h2v8h-2zM211 150h2v8h-2zM236 158h2v8h-2zM114 174h2v8h-2zM154 174h2v8h-2zM236 174h2v8h-2zM256 190h2v8h-2zM236 198h2v8h-2zM100 206h2v8h-2zM122 206h2v8h-2zM296 214h2v8h-2zM309 214h2v8h-2zM213 222h2v8h-2zM270 222h2v8h-2zM134 238h2v8h-2zM262 238h2v8h-2zM236 246h2v8h-2z" fill="#c9a056"/><path d="M96 62h2v8h-2zM114 62h2v8h-2zM132 62h2v8h-2zM167 62h2v8h-2zM213 62h2v8h-2zM266 62h2v8h-2zM146 70h2v8h-2zM165 70h2v8h-2zM183 70h2v8h-2zM294 70h2v8h-2zM266 78h2v8h-2zM235 86h1v8h-1zM278 86h2v8h-2zM179 94h2v8h-2zM221 102h2v8h-2zM278 102h2v8h-2zM238 118h2v8h-2zM248 118h2v8h-2zM162 126h1v8h-1zM177 126h2v8h-2zM278 126h2v8h-2zM167 134h2v8h-2zM235 142h1v8h-1zM268 142h2v8h-2zM229 150h2v8h-2zM288 150h2v8h-2zM252 158h2v8h-2zM272 158h2v8h-2zM171 166h2v8h-2zM227 166h2v8h-2zM195 174h2v8h-2zM158 182h2v8h-2zM290 182h2v8h-2zM276 190h2v8h-2zM292 198h2v8h-2zM274 206h2v8h-2zM233 214h2v8h-2zM311 214h2v8h-2zM183 222h2v8h-2zM306 222h1v8h-1zM307 222h2v8h-2zM309 222h2v8h-2zM266 238h2v8h-2zM300 246h2v8h-2zM302 246h2v8h-2z" fill="#caa156"/><path d="M300 62h2v8h-2zM108 70h2v8h-2zM98 78h2v8h-2zM110 78h2v8h-2zM158 78h2v8h-2zM227 78h2v8h-2zM240 78h2v8h-2zM300 78h2v8h-2zM209 86h2v8h-2zM229 86h2v8h-2zM311 86h2v8h-2zM236 94h2v8h-2zM260 94h2v8h-2zM209 102h2v8h-2zM128 110h2v8h-2zM150 126h2v8h-2zM209 134h2v8h-2zM256 134h2v8h-2zM187 142h2v8h-2zM248 142h2v8h-2zM282 142h2v8h-2zM300 142h2v8h-2zM144 150h2v8h-2zM280 150h2v8h-2zM290 150h2v8h-2zM199 158h2v8h-2zM290 158h2v8h-2zM307 158h2v8h-2zM110 166h2v8h-2zM268 166h2v8h-2zM252 174h2v8h-2zM292 174h2v8h-2zM254 182h2v8h-2zM262 182h2v8h-2zM231 190h2v8h-2zM254 190h2v8h-2zM118 198h2v8h-2zM146 198h2v8h-2zM252 206h2v8h-2zM242 222h2v8h-2zM268 222h2v8h-2zM311 222h2v8h-2zM223 230h2v8h-2zM278 230h2v8h-2zM242 254h2v8h-2z" fill="#caa256"/><path d="M233 62h2v8h-2zM276 62h2v8h-2zM290 70h2v8h-2zM138 78h2v8h-2zM197 78h2v8h-2zM175 86h2v8h-2zM207 86h2v8h-2zM290 86h2v8h-2zM122 94h2v8h-2zM223 94h2v8h-2zM268 102h2v8h-2zM102 118h2v8h-2zM130 118h2v8h-2zM211 118h2v8h-2zM233 126h2v8h-2zM276 126h2v8h-2zM199 134h2v8h-2zM300 134h2v8h-2zM258 150h2v8h-2zM150 166h2v8h-2zM225 166h2v8h-2zM306 166h1v8h-1zM307 166h2v8h-2zM203 182h2v8h-2zM223 182h2v8h-2zM205 214h2v8h-2zM292 214h2v8h-2zM294 214h2v8h-2zM126 222h2v8h-2zM254 230h2v8h-2zM260 238h2v8h-2zM238 246h2v8h-2zM274 246h2v8h-2zM304 246h2v8h-2zM136 254h2v8h-2zM309 254h2v8h-2z" fill="#caa356"/><path d="M294 62h2v8h-2zM311 62h2v8h-2zM306 70h1v8h-1zM150 78h2v8h-2zM260 86h2v8h-2zM304 86h2v8h-2zM244 94h2v8h-2zM290 94h2v8h-2zM185 102h2v8h-2zM256 102h2v8h-2zM92 118h2v8h-2zM292 118h2v8h-2zM211 134h2v8h-2zM278 150h2v8h-2zM110 158h2v8h-2zM96 166h2v8h-2zM244 166h2v8h-2zM235 174h1v8h-1zM278 174h2v8h-2zM311 174h2v8h-2zM233 190h2v8h-2zM302 190h2v8h-2zM219 198h2v8h-2zM262 198h2v8h-2zM294 198h2v8h-2zM256 214h2v8h-2zM302 222h2v8h-2zM167 238h2v8h-2zM227 238h2v8h-2zM205 246h2v8h-2zM272 246h2v8h-2zM246 254h2v8h-2zM248 254h2v8h-2z" fill="#cba456"/><path d="M150 62h2v8h-2zM179 62h2v8h-2zM258 70h2v8h-2zM171 78h2v8h-2zM219 78h2v8h-2zM280 78h2v8h-2zM288 78h2v8h-2zM307 78h2v8h-2zM98 86h2v8h-2zM120 86h2v8h-2zM189 94h2v8h-2zM268 94h2v8h-2zM191 110h2v8h-2zM292 110h2v8h-2zM304 118h2v8h-2zM235 126h1v8h-1zM246 126h2v8h-2zM288 126h2v8h-2zM136 134h2v8h-2zM272 134h2v8h-2zM108 150h2v8h-2zM197 150h2v8h-2zM209 150h2v8h-2zM231 150h2v8h-2zM292 150h2v8h-2zM217 158h2v8h-2zM286 166h2v8h-2zM177 174h2v8h-2zM296 174h2v8h-2zM288 182h2v8h-2zM306 182h1v8h-1zM193 198h2v8h-2zM272 206h2v8h-2zM231 214h2v8h-2zM290 214h2v8h-2zM158 222h2v8h-2zM215 222h2v8h-2zM304 222h2v8h-2zM280 230h2v8h-2zM195 238h2v8h-2zM134 246h2v8h-2zM306 246h1v8h-1zM110 254h2v8h-2zM177 254h2v8h-2zM215 254h2v8h-2zM244 254h2v8h-2z" fill="#cba556"/><path d="M215 62h2v8h-2zM221 62h2v8h-2zM171 70h2v8h-2zM191 70h2v8h-2zM211 70h2v8h-2zM248 70h2v8h-2zM195 78h2v8h-2zM195 86h2v8h-2zM215 86h2v8h-2zM197 102h2v8h-2zM306 102h1v8h-1zM92 110h2v8h-2zM197 118h2v8h-2zM225 118h2v8h-2zM217 126h2v8h-2zM262 126h2v8h-2zM104 134h2v8h-2zM242 134h2v8h-2zM302 134h2v8h-2zM203 142h2v8h-2zM233 150h2v8h-2zM304 166h2v8h-2zM252 182h2v8h-2zM116 190h2v8h-2zM280 190h2v8h-2zM300 190h2v8h-2zM167 198h2v8h-2zM238 198h2v8h-2zM260 198h2v8h-2zM254 206h2v8h-2zM298 206h2v8h-2zM102 214h2v8h-2zM154 214h2v8h-2zM130 230h2v8h-2zM189 230h2v8h-2zM225 230h2v8h-2zM258 238h2v8h-2z" fill="#cca656"/><path d="M195 62h2v8h-2zM258 62h2v8h-2zM219 70h2v8h-2zM231 70h2v8h-2zM240 70h2v8h-2zM288 70h2v8h-2zM193 78h2v8h-2zM268 86h2v8h-2zM165 94h2v8h-2zM258 94h2v8h-2zM244 102h2v8h-2zM280 102h2v8h-2zM229 110h2v8h-2zM266 110h2v8h-2zM146 118h2v8h-2zM171 118h2v8h-2zM183 118h2v8h-2zM304 126h2v8h-2zM309 134h2v8h-2zM233 142h2v8h-2zM175 150h2v8h-2zM207 150h2v8h-2zM165 158h2v8h-2zM286 158h2v8h-2zM209 166h2v8h-2zM266 166h2v8h-2zM302 166h2v8h-2zM215 174h2v8h-2zM254 174h2v8h-2zM266 182h2v8h-2zM187 190h2v8h-2zM201 206h2v8h-2zM223 206h2v8h-2zM250 206h2v8h-2zM300 206h2v8h-2zM179 214h2v8h-2zM207 214h2v8h-2zM240 222h2v8h-2zM272 222h2v8h-2zM252 230h2v8h-2zM282 230h2v8h-2zM171 246h2v8h-2zM242 246h2v8h-2zM282 254h2v8h-2z" fill="#cca756"/><path d="M203 62h2v8h-2zM238 62h2v8h-2zM203 70h2v8h-2zM268 70h2v8h-2zM130 78h2v8h-2zM229 78h2v8h-2zM236 86h2v8h-2zM280 86h2v8h-2zM201 94h2v8h-2zM302 94h2v8h-2zM148 102h2v8h-2zM278 110h2v8h-2zM307 110h2v8h-2zM207 126h2v8h-2zM274 126h2v8h-2zM311 134h2v8h-2zM158 142h2v8h-2zM274 150h2v8h-2zM276 150h2v8h-2zM146 158h2v8h-2zM238 158h2v8h-2zM274 158h2v8h-2zM185 166h2v8h-2zM264 166h2v8h-2zM233 174h2v8h-2zM181 182h2v8h-2zM264 182h2v8h-2zM307 182h2v8h-2zM163 190h2v8h-2zM209 190h2v8h-2zM252 190h2v8h-2zM100 198h2v8h-2zM309 198h2v8h-2zM256 206h2v8h-2zM288 214h2v8h-2zM300 222h2v8h-2zM106 230h2v8h-2zM284 230h2v8h-2zM132 238h2v8h-2zM256 238h2v8h-2zM290 238h2v8h-2zM108 246h2v8h-2zM240 246h2v8h-2zM244 246h2v8h-2z" fill="#cca856"/><path d="M162 62h1v8h-1zM217 62h2v8h-2zM219 62h2v8h-2zM284 62h2v8h-2zM173 78h2v8h-2zM175 78h2v8h-2zM209 78h2v8h-2zM248 78h2v8h-2zM258 78h2v8h-2zM91 86h1v8h-1zM248 86h2v8h-2zM309 86h2v8h-2zM282 94h2v8h-2zM258 102h2v8h-2zM142 110h2v8h-2zM167 110h2v8h-2zM217 110h2v8h-2zM240 110h2v8h-2zM256 110h2v8h-2zM290 118h2v8h-2zM290 126h2v8h-2zM183 134h2v8h-2zM286 134h2v8h-2zM304 134h2v8h-2zM307 134h2v8h-2zM126 142h2v8h-2zM221 142h2v8h-2zM250 142h2v8h-2zM284 142h2v8h-2zM128 150h2v8h-2zM294 150h2v8h-2zM183 158h2v8h-2zM278 190h2v8h-2zM217 198h2v8h-2zM307 198h2v8h-2zM120 206h2v8h-2zM238 222h2v8h-2zM163 230h2v8h-2zM106 238h2v8h-2zM229 238h2v8h-2zM292 238h2v8h-2zM203 246h2v8h-2zM307 246h2v8h-2zM134 254h2v8h-2zM213 254h2v8h-2z" fill="#cda956"/><path d="M302 62h2v8h-2zM183 86h2v8h-2zM262 86h2v8h-2zM144 94h2v8h-2zM246 94h2v8h-2zM100 102h2v8h-2zM171 102h2v8h-2zM219 102h2v8h-2zM193 110h2v8h-2zM203 110h2v8h-2zM227 110h2v8h-2zM306 110h1v8h-1zM156 118h2v8h-2zM278 118h2v8h-2zM189 126h2v8h-2zM124 134h2v8h-2zM197 134h2v8h-2zM266 142h2v8h-2zM260 150h2v8h-2zM262 150h2v8h-2zM215 158h2v8h-2zM309 158h2v8h-2zM134 166h2v8h-2zM179 174h2v8h-2zM193 174h2v8h-2zM156 182h2v8h-2zM248 182h2v8h-2zM250 182h2v8h-2zM235 190h1v8h-1zM296 198h2v8h-2zM306 198h1v8h-1zM171 206h2v8h-2zM302 206h2v8h-2zM258 214h2v8h-2zM181 222h2v8h-2zM252 246h2v8h-2zM262 246h2v8h-2zM264 246h2v8h-2zM266 246h2v8h-2zM311 254h2v8h-2z" fill="#cda957"/><path d="M248 62h2v8h-2zM309 62h2v8h-2zM116 70h2v8h-2zM154 70h2v8h-2zM189 70h2v8h-2zM268 78h2v8h-2zM156 86h2v8h-2zM227 86h2v8h-2zM306 86h1v8h-1zM160 94h2v8h-2zM213 94h2v8h-2zM266 102h2v8h-2zM292 102h2v8h-2zM177 110h2v8h-2zM254 110h2v8h-2zM304 110h2v8h-2zM236 118h2v8h-2zM264 118h2v8h-2zM160 126h2v8h-2zM292 126h2v8h-2zM306 134h1v8h-1zM169 142h2v8h-2zM162 150h1v8h-1zM240 150h2v8h-2zM250 158h2v8h-2zM276 158h2v8h-2zM311 158h2v8h-2zM112 174h2v8h-2zM138 174h2v8h-2zM231 174h2v8h-2zM298 174h2v8h-2zM286 182h2v8h-2zM309 182h2v8h-2zM298 190h2v8h-2zM302 198h2v8h-2zM152 206h2v8h-2zM258 206h2v8h-2zM304 206h2v8h-2zM187 230h2v8h-2zM227 230h2v8h-2zM193 238h2v8h-2zM294 238h2v8h-2zM246 246h2v8h-2zM260 246h2v8h-2zM268 246h2v8h-2zM270 246h2v8h-2zM211 254h2v8h-2z" fill="#ceaa57"/><path d="M183 62h2v8h-2zM268 62h2v8h-2zM274 62h2v8h-2zM169 70h2v8h-2zM221 70h2v8h-2zM244 70h2v8h-2zM278 70h2v8h-2zM91 78h1v8h-1zM211 78h2v8h-2zM270 78h2v8h-2zM298 78h2v8h-2zM307 86h2v8h-2zM235 102h1v8h-1zM209 118h2v8h-2zM227 118h2v8h-2zM252 118h2v8h-2zM132 126h2v8h-2zM165 134h2v8h-2zM213 134h2v8h-2zM227 134h2v8h-2zM205 150h2v8h-2zM235 150h1v8h-1zM278 158h2v8h-2zM223 166h2v8h-2zM246 182h2v8h-2zM240 198h2v8h-2zM258 198h2v8h-2zM300 198h2v8h-2zM160 222h2v8h-2zM274 222h2v8h-2zM298 222h2v8h-2zM250 230h2v8h-2zM254 246h2v8h-2zM179 254h2v8h-2zM280 254h2v8h-2z" fill="#ceab57"/><path d="M144 62h2v8h-2zM181 62h2v8h-2zM235 62h1v8h-1zM185 70h2v8h-2zM242 70h2v8h-2zM246 70h2v8h-2zM296 70h2v8h-2zM290 78h2v8h-2zM211 102h2v8h-2zM225 110h2v8h-2zM199 118h2v8h-2zM250 118h2v8h-2zM179 126h2v8h-2zM215 126h2v8h-2zM244 126h2v8h-2zM302 126h2v8h-2zM254 134h2v8h-2zM274 134h2v8h-2zM201 142h2v8h-2zM240 158h2v8h-2zM173 166h2v8h-2zM217 174h2v8h-2zM276 174h2v8h-2zM114 182h2v8h-2zM242 182h2v8h-2zM244 182h2v8h-2zM250 190h2v8h-2zM256 198h2v8h-2zM298 198h2v8h-2zM304 198h2v8h-2zM221 206h2v8h-2zM229 214h2v8h-2zM217 222h2v8h-2zM236 222h2v8h-2zM248 230h2v8h-2zM307 230h2v8h-2zM201 246h2v8h-2zM248 246h2v8h-2zM256 246h2v8h-2zM205 254h2v8h-2zM209 254h2v8h-2z" fill="#ceac57"/><path d="M126 62h2v8h-2zM91 70h1v8h-1zM134 70h2v8h-2zM167 70h2v8h-2zM286 70h2v8h-2zM177 86h2v8h-2zM266 86h2v8h-2zM225 94h2v8h-2zM235 94h1v8h-1zM256 94h2v8h-2zM307 102h2v8h-2zM120 118h2v8h-2zM307 118h2v8h-2zM236 126h2v8h-2zM264 126h2v8h-2zM294 126h2v8h-2zM244 134h2v8h-2zM252 142h2v8h-2zM298 142h2v8h-2zM132 158h2v8h-2zM201 158h2v8h-2zM248 158h2v8h-2zM300 166h2v8h-2zM229 174h2v8h-2zM309 174h2v8h-2zM142 182h2v8h-2zM201 182h2v8h-2zM225 182h2v8h-2zM189 190h2v8h-2zM246 190h2v8h-2zM248 190h2v8h-2zM282 190h2v8h-2zM290 190h2v8h-2zM242 198h2v8h-2zM217 206h2v8h-2zM270 206h2v8h-2zM122 214h2v8h-2zM209 214h2v8h-2zM276 222h2v8h-2zM296 222h2v8h-2zM128 230h2v8h-2zM165 230h2v8h-2zM309 230h2v8h-2zM311 230h2v8h-2zM173 246h2v8h-2zM207 254h2v8h-2z" fill="#cfad57"/><path d="M165 62h2v8h-2zM236 62h2v8h-2zM238 78h2v8h-2zM160 86h2v8h-2zM205 86h2v8h-2zM264 86h2v8h-2zM114 94h2v8h-2zM181 94h2v8h-2zM270 94h2v8h-2zM92 102h2v8h-2zM163 102h2v8h-2zM187 102h2v8h-2zM260 102h2v8h-2zM282 102h2v8h-2zM219 110h2v8h-2zM306 118h1v8h-1zM94 134h2v8h-2zM189 142h2v8h-2zM199 150h2v8h-2zM264 150h2v8h-2zM266 150h2v8h-2zM311 150h2v8h-2zM211 166h2v8h-2zM246 166h2v8h-2zM256 174h2v8h-2zM98 182h2v8h-2zM284 182h2v8h-2zM311 182h2v8h-2zM144 190h2v8h-2zM236 190h2v8h-2zM294 190h2v8h-2zM195 198h2v8h-2zM215 198h2v8h-2zM260 206h2v8h-2zM104 214h2v8h-2zM156 214h2v8h-2zM260 214h2v8h-2zM104 222h2v8h-2zM124 222h2v8h-2zM286 230h2v8h-2zM231 238h2v8h-2zM296 238h2v8h-2zM132 246h2v8h-2zM250 246h2v8h-2zM309 246h2v8h-2zM311 246h2v8h-2z" fill="#cfae57"/><path d="M148 62h2v8h-2zM163 62h2v8h-2zM272 62h2v8h-2zM292 62h2v8h-2zM304 62h2v8h-2zM128 70h2v8h-2zM209 70h2v8h-2zM217 78h2v8h-2zM278 78h2v8h-2zM112 86h2v8h-2zM140 86h2v8h-2zM282 86h2v8h-2zM284 86h2v8h-2zM187 94h2v8h-2zM292 94h2v8h-2zM309 102h2v8h-2zM223 110h2v8h-2zM242 110h2v8h-2zM252 110h2v8h-2zM268 110h2v8h-2zM173 118h2v8h-2zM284 118h2v8h-2zM209 126h2v8h-2zM242 126h2v8h-2zM284 134h2v8h-2zM223 142h2v8h-2zM227 142h2v8h-2zM254 142h2v8h-2zM201 150h2v8h-2zM203 150h2v8h-2zM284 158h2v8h-2zM262 166h2v8h-2zM152 174h2v8h-2zM191 174h2v8h-2zM300 174h2v8h-2zM100 190h2v8h-2zM207 190h2v8h-2zM286 190h2v8h-2zM292 190h2v8h-2zM116 198h2v8h-2zM148 198h2v8h-2zM203 206h2v8h-2zM266 206h2v8h-2zM268 206h2v8h-2zM306 206h1v8h-1zM177 214h2v8h-2zM262 214h2v8h-2zM185 230h2v8h-2zM191 238h2v8h-2zM258 246h2v8h-2zM112 254h2v8h-2zM183 254h2v8h-2zM250 254h2v8h-2z" fill="#d0af57"/><path d="M197 62h2v8h-2zM256 62h2v8h-2zM148 70h2v8h-2zM205 70h2v8h-2zM250 78h2v8h-2zM309 78h2v8h-2zM288 86h2v8h-2zM138 94h2v8h-2zM163 94h2v8h-2zM211 94h2v8h-2zM280 94h2v8h-2zM298 94h2v8h-2zM300 94h2v8h-2zM262 102h2v8h-2zM264 102h2v8h-2zM144 110h2v8h-2zM152 110h2v8h-2zM294 110h2v8h-2zM229 118h2v8h-2zM235 118h1v8h-1zM254 118h2v8h-2zM280 118h2v8h-2zM288 118h2v8h-2zM138 142h2v8h-2zM160 142h2v8h-2zM231 142h2v8h-2zM286 142h2v8h-2zM296 142h2v8h-2zM238 150h2v8h-2zM272 150h2v8h-2zM296 150h2v8h-2zM309 150h2v8h-2zM242 158h2v8h-2zM213 166h2v8h-2zM98 174h2v8h-2zM181 174h2v8h-2zM189 174h2v8h-2zM219 174h2v8h-2zM221 174h2v8h-2zM223 174h2v8h-2zM270 174h2v8h-2zM274 174h2v8h-2zM154 182h2v8h-2zM162 190h1v8h-1zM286 214h2v8h-2zM169 238h2v8h-2zM233 238h2v8h-2zM254 238h2v8h-2zM175 246h2v8h-2zM132 254h2v8h-2zM274 254h2v8h-2zM276 254h2v8h-2z" fill="#d0b057"/><path d="M229 70h2v8h-2zM156 78h2v8h-2zM256 78h2v8h-2zM134 86h2v8h-2zM197 86h2v8h-2zM246 86h2v8h-2zM162 94h1v8h-1zM169 102h2v8h-2zM195 102h2v8h-2zM242 102h2v8h-2zM311 102h2v8h-2zM148 118h2v8h-2zM260 118h2v8h-2zM262 118h2v8h-2zM282 118h2v8h-2zM154 134h2v8h-2zM276 134h2v8h-2zM106 142h2v8h-2zM236 150h2v8h-2zM268 150h2v8h-2zM203 158h2v8h-2zM244 158h2v8h-2zM288 166h2v8h-2zM307 174h2v8h-2zM183 182h2v8h-2zM227 182h2v8h-2zM268 182h2v8h-2zM244 190h2v8h-2zM296 190h2v8h-2zM205 206h2v8h-2zM219 206h2v8h-2zM262 206h2v8h-2zM264 206h2v8h-2zM211 214h2v8h-2zM227 214h2v8h-2zM284 214h2v8h-2zM179 222h2v8h-2zM167 230h2v8h-2zM183 230h2v8h-2zM229 230h2v8h-2zM231 230h2v8h-2zM252 238h2v8h-2zM300 238h2v8h-2zM181 254h2v8h-2zM272 254h2v8h-2zM278 254h2v8h-2z" fill="#d0b157"/><path d="M199 62h2v8h-2zM201 62h2v8h-2zM96 70h2v8h-2zM260 70h2v8h-2zM231 78h2v8h-2zM181 86h2v8h-2zM238 86h2v8h-2zM286 86h2v8h-2zM203 94h2v8h-2zM213 102h2v8h-2zM236 102h2v8h-2zM290 102h2v8h-2zM276 110h2v8h-2zM201 118h2v8h-2zM286 118h2v8h-2zM309 118h2v8h-2zM122 126h2v8h-2zM211 126h2v8h-2zM238 126h2v8h-2zM266 126h2v8h-2zM195 134h2v8h-2zM215 134h2v8h-2zM246 134h2v8h-2zM282 134h2v8h-2zM229 142h2v8h-2zM292 142h2v8h-2zM246 158h2v8h-2zM280 158h2v8h-2zM148 166h2v8h-2zM183 166h2v8h-2zM187 174h2v8h-2zM227 174h2v8h-2zM284 190h2v8h-2zM288 190h2v8h-2zM248 198h2v8h-2zM254 198h2v8h-2zM102 206h2v8h-2zM154 206h2v8h-2zM169 206h2v8h-2zM219 222h2v8h-2zM235 222h1v8h-1zM278 222h2v8h-2zM294 222h2v8h-2zM290 230h2v8h-2zM304 230h2v8h-2zM306 230h1v8h-1zM130 238h2v8h-2zM130 246h2v8h-2zM203 254h2v8h-2zM252 254h2v8h-2z" fill="#d1b257"/><path d="M130 62h2v8h-2zM146 62h2v8h-2zM307 62h2v8h-2zM266 70h2v8h-2zM213 78h2v8h-2zM252 78h2v8h-2zM254 78h2v8h-2zM294 94h2v8h-2zM296 94h2v8h-2zM140 102h2v8h-2zM217 102h2v8h-2zM100 110h2v8h-2zM126 110h2v8h-2zM169 110h2v8h-2zM175 110h2v8h-2zM201 110h2v8h-2zM221 110h2v8h-2zM274 110h2v8h-2zM154 118h2v8h-2zM152 126h2v8h-2zM158 126h2v8h-2zM240 126h2v8h-2zM272 126h2v8h-2zM225 134h2v8h-2zM250 134h2v8h-2zM213 158h2v8h-2zM282 158h2v8h-2zM181 166h2v8h-2zM298 166h2v8h-2zM268 174h2v8h-2zM238 190h2v8h-2zM165 198h2v8h-2zM246 198h2v8h-2zM252 198h2v8h-2zM120 214h2v8h-2zM213 214h2v8h-2zM225 214h2v8h-2zM233 222h2v8h-2zM292 222h2v8h-2zM233 230h2v8h-2zM288 230h2v8h-2zM300 230h2v8h-2zM302 230h2v8h-2zM298 238h2v8h-2zM304 238h2v8h-2zM110 246h2v8h-2zM199 246h2v8h-2z" fill="#d1b357"/><path d="M270 62h2v8h-2zM187 70h2v8h-2zM207 70h2v8h-2zM280 70h2v8h-2zM284 70h2v8h-2zM152 78h2v8h-2zM272 78h2v8h-2zM311 78h2v8h-2zM158 86h2v8h-2zM179 86h2v8h-2zM233 94h2v8h-2zM116 102h2v8h-2zM189 102h2v8h-2zM270 110h2v8h-2zM181 118h2v8h-2zM207 118h2v8h-2zM187 126h2v8h-2zM252 134h2v8h-2zM280 134h2v8h-2zM167 142h2v8h-2zM225 142h2v8h-2zM264 142h2v8h-2zM294 142h2v8h-2zM142 150h2v8h-2zM270 150h2v8h-2zM167 158h2v8h-2zM181 158h2v8h-2zM290 166h2v8h-2zM185 174h2v8h-2zM258 174h2v8h-2zM272 174h2v8h-2zM302 174h2v8h-2zM191 190h2v8h-2zM240 190h2v8h-2zM213 198h2v8h-2zM244 198h2v8h-2zM311 206h2v8h-2zM264 214h2v8h-2zM162 222h1v8h-1zM221 222h2v8h-2zM231 222h2v8h-2zM108 230h2v8h-2zM298 230h2v8h-2zM108 238h2v8h-2zM171 238h2v8h-2zM250 238h2v8h-2zM302 238h2v8h-2z" fill="#d2b457"/><path d="M91 62h1v8h-1zM250 62h2v8h-2zM252 62h2v8h-2zM286 62h2v8h-2zM290 62h2v8h-2zM306 62h1v8h-1zM150 70h2v8h-2zM262 70h2v8h-2zM298 70h2v8h-2zM304 70h2v8h-2zM296 78h2v8h-2zM199 86h2v8h-2zM203 86h2v8h-2zM217 86h2v8h-2zM142 94h2v8h-2zM227 94h2v8h-2zM248 94h2v8h-2zM124 102h2v8h-2zM215 102h2v8h-2zM238 102h2v8h-2zM195 110h2v8h-2zM231 118h2v8h-2zM311 118h2v8h-2zM181 126h2v8h-2zM300 126h2v8h-2zM217 134h2v8h-2zM248 134h2v8h-2zM278 134h2v8h-2zM191 142h2v8h-2zM163 150h2v8h-2zM173 150h2v8h-2zM307 150h2v8h-2zM96 158h2v8h-2zM98 166h2v8h-2zM108 166h2v8h-2zM177 166h2v8h-2zM221 166h2v8h-2zM260 166h2v8h-2zM292 166h2v8h-2zM225 174h2v8h-2zM266 174h2v8h-2zM240 182h2v8h-2zM282 182h2v8h-2zM197 198h2v8h-2zM207 206h2v8h-2zM215 206h2v8h-2zM235 230h1v8h-1zM238 230h2v8h-2zM244 230h2v8h-2zM294 230h2v8h-2zM246 238h2v8h-2zM248 238h2v8h-2zM197 246h2v8h-2zM185 254h2v8h-2z" fill="#d2b557"/><path d="M223 70h2v8h-2zM136 78h2v8h-2zM215 78h2v8h-2zM236 78h2v8h-2zM98 94h2v8h-2zM183 94h2v8h-2zM229 94h2v8h-2zM254 94h2v8h-2zM146 102h2v8h-2zM167 102h2v8h-2zM284 102h2v8h-2zM118 110h2v8h-2zM250 110h2v8h-2zM296 110h2v8h-2zM302 110h2v8h-2zM256 118h2v8h-2zM258 118h2v8h-2zM193 134h2v8h-2zM219 134h2v8h-2zM256 142h2v8h-2zM96 150h2v8h-2zM175 166h2v8h-2zM179 166h2v8h-2zM114 190h2v8h-2zM242 190h2v8h-2zM102 198h2v8h-2zM211 198h2v8h-2zM250 198h2v8h-2zM118 206h2v8h-2zM266 214h2v8h-2zM122 222h2v8h-2zM163 222h2v8h-2zM280 222h2v8h-2zM126 230h2v8h-2zM246 230h2v8h-2zM306 238h1v8h-1z" fill="#d2b657"/><path d="M108 62h2v8h-2zM128 62h2v8h-2zM254 62h2v8h-2zM152 70h2v8h-2zM227 70h2v8h-2zM116 78h2v8h-2zM274 78h2v8h-2zM276 78h2v8h-2zM292 78h2v8h-2zM140 94h2v8h-2zM231 94h2v8h-2zM165 102h2v8h-2zM193 102h2v8h-2zM175 118h2v8h-2zM233 118h2v8h-2zM213 126h2v8h-2zM268 126h2v8h-2zM296 126h2v8h-2zM102 134h2v8h-2zM134 134h2v8h-2zM163 134h2v8h-2zM185 134h2v8h-2zM221 134h2v8h-2zM288 142h2v8h-2zM290 142h2v8h-2zM298 150h2v8h-2zM306 150h1v8h-1zM144 158h2v8h-2zM215 166h2v8h-2zM217 166h2v8h-2zM248 166h2v8h-2zM296 166h2v8h-2zM183 174h2v8h-2zM264 174h2v8h-2zM304 174h2v8h-2zM306 174h1v8h-1zM238 182h2v8h-2zM205 190h2v8h-2zM207 198h2v8h-2zM167 206h2v8h-2zM307 206h2v8h-2zM106 214h2v8h-2zM175 214h2v8h-2zM223 214h2v8h-2zM290 222h2v8h-2zM236 230h2v8h-2zM240 230h2v8h-2zM292 230h2v8h-2zM296 230h2v8h-2zM235 238h1v8h-1zM177 246h2v8h-2zM114 254h2v8h-2zM268 254h2v8h-2z" fill="#d3b758"/><path d="M288 62h2v8h-2zM264 70h2v8h-2zM225 86h2v8h-2zM92 94h2v8h-2zM250 94h2v8h-2zM288 102h2v8h-2zM244 110h2v8h-2zM272 110h2v8h-2zM154 126h2v8h-2zM223 134h2v8h-2zM162 142h1v8h-1zM199 142h2v8h-2zM302 150h2v8h-2zM179 158h2v8h-2zM260 174h2v8h-2zM262 174h2v8h-2zM152 182h2v8h-2zM229 182h2v8h-2zM160 190h2v8h-2zM223 222h2v8h-2zM282 222h2v8h-2zM169 230h2v8h-2zM236 238h2v8h-2zM112 246h2v8h-2zM201 254h2v8h-2zM254 254h2v8h-2zM266 254h2v8h-2zM270 254h2v8h-2z" fill="#d3b858"/><path d="M225 70h2v8h-2zM201 86h2v8h-2zM244 86h2v8h-2zM272 94h2v8h-2zM240 102h2v8h-2zM150 110h2v8h-2zM197 110h2v8h-2zM199 110h2v8h-2zM246 110h2v8h-2zM298 110h2v8h-2zM128 118h2v8h-2zM203 118h2v8h-2zM205 118h2v8h-2zM185 126h2v8h-2zM219 166h2v8h-2zM294 166h2v8h-2zM144 182h2v8h-2zM236 182h2v8h-2zM146 190h2v8h-2zM209 206h2v8h-2zM213 206h2v8h-2zM158 214h2v8h-2zM217 214h2v8h-2zM219 214h2v8h-2zM268 214h2v8h-2zM270 214h2v8h-2zM282 214h2v8h-2zM225 222h2v8h-2zM229 222h2v8h-2zM284 222h2v8h-2zM288 222h2v8h-2zM311 238h2v8h-2zM199 254h2v8h-2z" fill="#d3b859"/><path d="M154 78h2v8h-2zM138 86h2v8h-2zM219 86h2v8h-2zM240 86h2v8h-2zM120 94h2v8h-2zM185 94h2v8h-2zM205 94h2v8h-2zM209 94h2v8h-2zM276 94h2v8h-2zM278 94h2v8h-2zM191 102h2v8h-2zM248 110h2v8h-2zM102 126h2v8h-2zM183 126h2v8h-2zM165 142h2v8h-2zM130 150h2v8h-2zM165 150h2v8h-2zM171 150h2v8h-2zM205 158h2v8h-2zM211 158h2v8h-2zM136 166h2v8h-2zM150 174h2v8h-2zM100 182h2v8h-2zM199 182h2v8h-2zM280 182h2v8h-2zM114 198h2v8h-2zM150 198h2v8h-2zM205 198h2v8h-2zM309 206h2v8h-2zM215 214h2v8h-2zM221 214h2v8h-2zM280 214h2v8h-2zM242 230h2v8h-2zM110 238h2v8h-2zM244 238h2v8h-2zM309 238h2v8h-2zM179 246h2v8h-2zM195 246h2v8h-2zM187 254h2v8h-2z" fill="#d4b959"/><path d="M282 70h2v8h-2zM300 70h2v8h-2zM235 78h1v8h-1zM252 94h2v8h-2zM171 110h2v8h-2zM173 110h2v8h-2zM300 110h2v8h-2zM270 126h2v8h-2zM298 126h2v8h-2zM126 134h2v8h-2zM96 142h2v8h-2zM136 142h2v8h-2zM163 142h2v8h-2zM195 142h2v8h-2zM258 142h2v8h-2zM300 150h2v8h-2zM304 150h2v8h-2zM108 158h2v8h-2zM134 158h2v8h-2zM146 166h2v8h-2zM140 174h2v8h-2zM146 182h2v8h-2zM270 182h2v8h-2zM102 190h2v8h-2zM193 190h2v8h-2zM199 198h2v8h-2zM203 198h2v8h-2zM104 206h2v8h-2zM165 206h2v8h-2zM108 214h2v8h-2zM272 214h2v8h-2zM278 214h2v8h-2zM227 222h2v8h-2zM189 238h2v8h-2zM238 238h2v8h-2zM307 238h2v8h-2zM193 246h2v8h-2z" fill="#d4ba5a"/><path d="M233 78h2v8h-2zM242 86h2v8h-2zM207 94h2v8h-2zM286 102h2v8h-2zM150 118h2v8h-2zM156 126h2v8h-2zM191 134h2v8h-2zM128 142h2v8h-2zM197 142h2v8h-2zM262 142h2v8h-2zM106 150h2v8h-2zM169 150h2v8h-2zM258 166h2v8h-2zM110 174h2v8h-2zM231 182h2v8h-2zM272 182h2v8h-2zM201 190h2v8h-2zM203 190h2v8h-2zM201 198h2v8h-2zM209 198h2v8h-2zM211 206h2v8h-2zM181 230h2v8h-2zM173 238h2v8h-2zM242 238h2v8h-2zM256 254h2v8h-2z" fill="#d5bb5a"/><path d="M302 70h2v8h-2zM132 78h2v8h-2zM146 110h2v8h-2zM179 118h2v8h-2zM94 126h2v8h-2zM130 126h2v8h-2zM193 142h2v8h-2zM167 150h2v8h-2zM156 206h2v8h-2zM106 222h2v8h-2zM165 222h2v8h-2zM177 222h2v8h-2zM286 222h2v8h-2zM181 246h2v8h-2zM130 254h2v8h-2zM189 254h2v8h-2zM191 254h2v8h-2zM197 254h2v8h-2z" fill="#d5bc5b"/><path d="M294 78h2v8h-2zM136 86h2v8h-2zM274 94h2v8h-2zM148 110h2v8h-2zM260 142h2v8h-2zM100 174h2v8h-2zM112 182h2v8h-2zM185 182h2v8h-2zM233 182h2v8h-2zM235 182h1v8h-1zM278 182h2v8h-2zM195 190h2v8h-2zM158 206h2v8h-2zM118 214h2v8h-2zM173 214h2v8h-2zM274 214h2v8h-2zM128 238h2v8h-2zM240 238h2v8h-2zM116 254h2v8h-2z" fill="#d5bd5b"/><path d="M118 86h2v8h-2zM144 102h2v8h-2zM100 118h2v8h-2zM177 118h2v8h-2zM96 134h2v8h-2zM209 158h2v8h-2zM250 166h2v8h-2zM148 174h2v8h-2zM150 182h2v8h-2zM274 182h2v8h-2zM276 182h2v8h-2zM276 214h2v8h-2zM171 230h2v8h-2zM114 246h2v8h-2zM128 246h2v8h-2zM264 254h2v8h-2z" fill="#d6bd5b"/><path d="M110 70h2v8h-2zM130 70h2v8h-2zM112 78h2v8h-2zM221 86h2v8h-2zM223 86h2v8h-2zM152 118h2v8h-2zM156 134h2v8h-2zM187 134h2v8h-2zM256 166h2v8h-2zM142 174h2v8h-2zM148 182h2v8h-2zM158 190h2v8h-2zM197 190h2v8h-2zM199 190h2v8h-2zM160 206h2v8h-2zM110 230h2v8h-2zM187 238h2v8h-2zM183 246h2v8h-2zM128 254h2v8h-2zM195 254h2v8h-2zM262 254h2v8h-2z" fill="#d6be5c"/><path d="M94 118h2v8h-2zM189 134h2v8h-2zM169 158h2v8h-2zM197 182h2v8h-2zM163 198h2v8h-2zM160 214h2v8h-2zM171 214h2v8h-2zM179 230h2v8h-2zM191 246h2v8h-2zM193 254h2v8h-2zM258 254h2v8h-2z" fill="#d6bf5c"/><path d="M112 62h2v8h-2zM114 70h2v8h-2zM96 78h2v8h-2zM142 102h2v8h-2zM120 110h2v8h-2zM122 118h2v8h-2zM104 142h2v8h-2zM177 158h2v8h-2zM207 158h2v8h-2zM100 166h2v8h-2zM106 166h2v8h-2zM254 166h2v8h-2zM144 174h2v8h-2zM110 182h2v8h-2zM112 190h2v8h-2zM104 198h2v8h-2zM112 198h2v8h-2zM152 198h2v8h-2zM167 222h2v8h-2zM175 222h2v8h-2zM183 238h2v8h-2zM185 238h2v8h-2zM187 246h2v8h-2zM260 254h2v8h-2z" fill="#d7c05d"/><path d="M134 78h2v8h-2zM116 94h2v8h-2zM98 102h2v8h-2zM122 102h2v8h-2zM94 110h2v8h-2zM100 134h2v8h-2zM162 134h1v8h-1zM171 158h2v8h-2zM252 166h2v8h-2zM102 182h2v8h-2zM163 206h2v8h-2zM110 214h2v8h-2zM120 222h2v8h-2zM177 230h2v8h-2zM126 246h2v8h-2zM185 246h2v8h-2z" fill="#d7c15d"/><path d="M132 70h2v8h-2zM114 78h2v8h-2zM96 86h2v8h-2zM124 110h2v8h-2zM128 126h2v8h-2zM142 158h2v8h-2zM189 182h2v8h-2zM104 190h2v8h-2zM148 190h2v8h-2zM116 206h2v8h-2zM169 214h2v8h-2zM173 230h2v8h-2zM175 230h2v8h-2zM126 238h2v8h-2zM124 246h2v8h-2zM189 246h2v8h-2zM118 254h2v8h-2z" fill="#d7c25e"/><path d="M94 62h2v8h-2zM124 126h2v8h-2zM98 134h2v8h-2zM132 134h2v8h-2zM130 142h2v8h-2zM106 158h2v8h-2zM146 174h2v8h-2zM193 182h2v8h-2zM195 182h2v8h-2zM162 206h1v8h-1zM112 238h2v8h-2zM175 238h2v8h-2zM177 238h2v8h-2zM124 254h2v8h-2zM126 254h2v8h-2z" fill="#d8c25e"/><path d="M114 86h2v8h-2zM104 166h2v8h-2zM138 166h2v8h-2zM191 182h2v8h-2zM171 222h2v8h-2zM124 230h2v8h-2z" fill="#d8c35e"/><path d="M92 86h2v8h-2zM94 102h2v8h-2zM140 150h2v8h-2zM136 158h2v8h-2zM144 166h2v8h-2zM102 174h2v8h-2zM187 182h2v8h-2zM150 190h2v8h-2zM116 214h2v8h-2zM169 222h2v8h-2zM114 238h2v8h-2zM124 238h2v8h-2zM181 238h2v8h-2zM122 246h2v8h-2zM120 254h2v8h-2z" fill="#d8c45f"/><path d="M118 94h2v8h-2zM140 158h2v8h-2zM173 158h2v8h-2zM108 182h2v8h-2zM162 198h1v8h-1zM106 206h2v8h-2zM112 214h2v8h-2zM162 214h1v8h-1zM108 222h2v8h-2zM173 222h2v8h-2z" fill="#d9c55f"/><path d="M110 62h2v8h-2zM98 110h2v8h-2zM122 110h2v8h-2zM128 134h2v8h-2zM158 134h2v8h-2zM98 150h2v8h-2zM98 158h2v8h-2zM138 158h2v8h-2zM175 158h2v8h-2zM110 190h2v8h-2zM106 198h2v8h-2zM167 214h2v8h-2zM122 254h2v8h-2z" fill="#d9c660"/><path d="M116 86h2v8h-2zM96 94h2v8h-2zM130 134h2v8h-2zM104 150h2v8h-2zM108 174h2v8h-2zM104 182h2v8h-2zM116 238h2v8h-2zM179 238h2v8h-2zM116 246h2v8h-2zM118 246h2v8h-2zM120 246h2v8h-2z" fill="#dac760"/><path d="M94 94h2v8h-2zM96 102h2v8h-2zM126 118h2v8h-2zM108 190h2v8h-2zM156 190h2v8h-2zM154 198h2v8h-2zM114 214h2v8h-2zM163 214h2v8h-2zM118 222h2v8h-2zM122 230h2v8h-2zM120 238h2v8h-2z" fill="#dac761"/><path d="M92 62h2v8h-2zM98 118h2v8h-2zM124 118h2v8h-2zM100 126h2v8h-2zM126 126h2v8h-2zM134 142h2v8h-2zM102 166h2v8h-2zM106 182h2v8h-2zM110 198h2v8h-2zM110 206h2v8h-2zM114 206h2v8h-2z" fill="#dac861"/><path d="M92 70h2v8h-2zM112 70h2v8h-2zM118 102h2v8h-2zM96 126h2v8h-2zM160 134h2v8h-2zM132 142h2v8h-2zM132 150h2v8h-2zM106 190h2v8h-2zM152 190h2v8h-2zM108 198h2v8h-2zM156 198h2v8h-2zM160 198h2v8h-2zM165 214h2v8h-2zM112 230h2v8h-2zM118 238h2v8h-2zM122 238h2v8h-2z" fill="#dbc962"/><path d="M94 70h2v8h-2zM92 78h2v8h-2zM120 102h2v8h-2zM96 110h2v8h-2zM96 118h2v8h-2zM142 166h2v8h-2zM158 198h2v8h-2zM108 206h2v8h-2zM110 222h2v8h-2zM120 230h2v8h-2z" fill="#dbca62"/><path d="M98 142h2v8h-2zM104 158h2v8h-2zM112 206h2v8h-2z" fill="#dccb64"/><path d="M138 150h2v8h-2zM140 166h2v8h-2zM104 174h2v8h-2zM154 190h2v8h-2zM116 222h2v8h-2z" fill="#dccc66"/><path d="M102 142h2v8h-2zM100 158h2v8h-2zM112 222h2v8h-2zM118 230h2v8h-2z" fill="#ddcd68"/><path d="M102 150h2v8h-2zM102 158h2v8h-2zM114 230h2v8h-2z" fill="#ddce6b"/><path d="M94 78h2v8h-2zM94 86h2v8h-2zM98 126h2v8h-2zM100 150h2v8h-2zM106 174h2v8h-2zM116 230h2v8h-2z" fill="#ded06f"/><path d="M114 222h2v8h-2z" fill="#dfd171"/><path d="M100 142h2v8h-2zM134 150h2v8h-2zM136 150h2v8h-2z" fill="#e0d375"/></g></g>
<line x1="77.50" y1="62.30" x2="307.20" y2="62.30" stroke="#1d1a1b" stroke-width="2.6" stroke-linecap="butt"/>
<line x1="306.00" y1="62.30" x2="306.00" y2="264.00" stroke="#1d1a1b" stroke-width="2.5" stroke-linecap="butt"/>
<line x1="84.60" y1="61.50" x2="84.60" y2="264.00" stroke="#1d1a1b" stroke-width="2.4" stroke-linecap="butt"/>
<line x1="77.20" y1="263.00" x2="307.20" y2="263.00" stroke="#1d1a1b" stroke-width="2.6" stroke-linecap="butt"/>
<line x1="78.50" y1="262.00" x2="78.50" y2="273.00" stroke="#1d1a1b" stroke-width="3" stroke-linecap="butt"/>
<line x1="98.24" y1="262.00" x2="98.24" y2="268.60" stroke="#1d1a1b" stroke-width="2.2" stroke-linecap="butt"/>
<line x1="117.98" y1="262.00" x2="117.98" y2="268.60" stroke="#1d1a1b" stroke-width="2.2" stroke-linecap="butt"/>
<line x1="137.72" y1="262.00" x2="137.72" y2="268.60" stroke="#1d1a1b" stroke-width="2.2" stroke-linecap="butt"/>
<line x1="157.46" y1="262.00" x2="157.46" y2="268.60" stroke="#1d1a1b" stroke-width="2.2" stroke-linecap="butt"/>
<line x1="177.20" y1="262.00" x2="177.20" y2="273.00" stroke="#1d1a1b" stroke-width="3" stroke-linecap="butt"/>
<line x1="196.94" y1="262.00" x2="196.94" y2="268.60" stroke="#1d1a1b" stroke-width="2.2" stroke-linecap="butt"/>
<line x1="216.68" y1="262.00" x2="216.68" y2="268.60" stroke="#1d1a1b" stroke-width="2.2" stroke-linecap="butt"/>
<line x1="236.42" y1="262.00" x2="236.42" y2="268.60" stroke="#1d1a1b" stroke-width="2.2" stroke-linecap="butt"/>
<line x1="256.16" y1="262.00" x2="256.16" y2="268.60" stroke="#1d1a1b" stroke-width="2.2" stroke-linecap="butt"/>
<line x1="275.90" y1="262.00" x2="275.90" y2="273.00" stroke="#1d1a1b" stroke-width="3" stroke-linecap="butt"/>
<line x1="295.64" y1="262.00" x2="295.64" y2="268.60" stroke="#1d1a1b" stroke-width="2.2" stroke-linecap="butt"/>
<text x="78.50" y="303.60" font-size="26" text-anchor="middle" >0</text>
<text x="177.20" y="303.60" font-size="26" text-anchor="middle" >50</text>
<text x="275.90" y="303.60" font-size="26" text-anchor="middle" >100</text>
<line x1="67.20" y1="258.50" x2="79.30" y2="258.50" stroke="#1d1a1b" stroke-width="3" stroke-linecap="butt"/>
<line x1="78.40" y1="242.52" x2="84.60" y2="242.52" stroke="#1d1a1b" stroke-width="2.3" stroke-linecap="butt"/>
<line x1="78.40" y1="226.54" x2="84.60" y2="226.54" stroke="#1d1a1b" stroke-width="2.3" stroke-linecap="butt"/>
<line x1="78.40" y1="210.56" x2="84.60" y2="210.56" stroke="#1d1a1b" stroke-width="2.3" stroke-linecap="butt"/>
<line x1="78.40" y1="194.58" x2="84.60" y2="194.58" stroke="#1d1a1b" stroke-width="2.3" stroke-linecap="butt"/>
<line x1="73.80" y1="178.60" x2="84.60" y2="178.60" stroke="#1d1a1b" stroke-width="3" stroke-linecap="butt"/>
<line x1="78.40" y1="162.62" x2="84.60" y2="162.62" stroke="#1d1a1b" stroke-width="2.3" stroke-linecap="butt"/>
<line x1="78.40" y1="146.64" x2="84.60" y2="146.64" stroke="#1d1a1b" stroke-width="2.3" stroke-linecap="butt"/>
<line x1="78.40" y1="130.66" x2="84.60" y2="130.66" stroke="#1d1a1b" stroke-width="2.3" stroke-linecap="butt"/>
<line x1="72.20" y1="114.68" x2="79.30" y2="114.68" stroke="#1d1a1b" stroke-width="2.3" stroke-linecap="butt"/>
<line x1="67.20" y1="98.70" x2="79.30" y2="98.70" stroke="#1d1a1b" stroke-width="3" stroke-linecap="butt"/>
<line x1="72.20" y1="82.72" x2="79.30" y2="82.72" stroke="#1d1a1b" stroke-width="2.3" stroke-linecap="butt"/>
<line x1="72.20" y1="66.74" x2="79.30" y2="66.74" stroke="#1d1a1b" stroke-width="2.3" stroke-linecap="butt"/>
<text x="62.00" y="267.50" font-size="26" text-anchor="end" >0</text>
<text x="62.00" y="107.70" font-size="26" text-anchor="end" >20</text>
<text x="67.00" y="187.60" font-size="26" text-anchor="end" >10</text>
<path d="M141.41,319.96 C141.81,317.93 143.14,317.22 144.97,317.22 L150.56,317.22 M146.19,317.22 C145.68,320.77 145.47,323.82 145.68,325.86 C145.98,328.09 147.91,328.19 148.93,327.18 C149.64,326.47 149.95,325.65 150.05,324.94" fill="none" stroke="#1d1a1b" stroke-width="1.58" stroke-linecap="butt"/>
<text x="154.50" y="333.40" font-size="18.5" >Rabi</text>
<text x="198.30" y="327.80" font-size="25.5" >(ns)</text>
<g transform="translate(19.6,210.5) rotate(-90)"><text x="0" y="0" font-size="25.5"><tspan font-style="italic">P</tspan> (dBm)</text></g>
<text x="2.00" y="381.00" font-size="28.5" font-weight="bold" >b</text>
<rect x="78.2" y="397.2" width="234.3" height="214.4" fill="none" stroke="#1d1a1b" stroke-width="2.6"/>
<line x1="67.40" y1="576.50" x2="78.40" y2="576.50" stroke="#1d1a1b" stroke-width="3" stroke-linecap="butt"/>
<text x="62.00" y="585.50" font-size="26" text-anchor="end" >40</text>
<line x1="67.40" y1="525.10" x2="78.40" y2="525.10" stroke="#1d1a1b" stroke-width="3" stroke-linecap="butt"/>
<text x="62.00" y="534.10" font-size="26" text-anchor="end" >60</text>
<line x1="67.40" y1="473.70" x2="78.40" y2="473.70" stroke="#1d1a1b" stroke-width="3" stroke-linecap="butt"/>
<text x="62.00" y="482.70" font-size="26" text-anchor="end" >80</text>
<line x1="67.40" y1="422.30" x2="78.40" y2="422.30" stroke="#1d1a1b" stroke-width="3" stroke-linecap="butt"/>
<text x="62.00" y="431.30" font-size="26" text-anchor="end" >100</text>
<line x1="109.30" y1="611.50" x2="109.30" y2="622.00" stroke="#1d1a1b" stroke-width="3" stroke-linecap="butt"/>
<text x="109.30" y="653.00" font-size="26" text-anchor="middle" >1.0</text>
<line x1="163.55" y1="611.50" x2="163.55" y2="622.00" stroke="#1d1a1b" stroke-width="3" stroke-linecap="butt"/>
<text x="163.55" y="653.00" font-size="26" text-anchor="middle" >1.5</text>
<line x1="217.80" y1="611.50" x2="217.80" y2="622.00" stroke="#1d1a1b" stroke-width="3" stroke-linecap="butt"/>
<text x="217.80" y="653.00" font-size="26" text-anchor="middle" >2.0</text>
<line x1="272.05" y1="611.50" x2="272.05" y2="622.00" stroke="#1d1a1b" stroke-width="3" stroke-linecap="butt"/>
<text x="272.05" y="653.00" font-size="26" text-anchor="middle" >2.5</text>
<circle cx="78" cy="606" r="3.35" fill="#0b7bb6"/>
<circle cx="82.4" cy="600" r="3.35" fill="#0b7bb6"/>
<circle cx="87.4" cy="596" r="3.35" fill="#0b7bb6"/>
<circle cx="92.6" cy="592.6" r="3.35" fill="#0b7bb6"/>
<circle cx="98" cy="588.6" r="3.35" fill="#0b7bb6"/>
<circle cx="103.6" cy="583.6" r="3.35" fill="#0b7bb6"/>
<circle cx="109.6" cy="577.4" r="3.35" fill="#0b7bb6"/>
<circle cx="116" cy="572" r="3.35" fill="#0b7bb6"/>
<circle cx="122.6" cy="565.6" r="3.35" fill="#0b7bb6"/>
<circle cx="129.6" cy="558.6" r="3.35" fill="#0b7bb6"/>
<circle cx="137.6" cy="551.6" r="3.35" fill="#0b7bb6"/>
<circle cx="145.6" cy="546" r="3.35" fill="#0b7bb6"/>
<circle cx="154" cy="538" r="3.35" fill="#0b7bb6"/>
<circle cx="163" cy="528.4" r="3.35" fill="#0b7bb6"/>
<circle cx="173" cy="523.4" r="3.35" fill="#0b7bb6"/>
<circle cx="183" cy="513.6" r="3.35" fill="#0b7bb6"/>
<circle cx="193.6" cy="502" r="3.35" fill="#0b7bb6"/>
<circle cx="205" cy="493.4" r="3.35" fill="#0b7bb6"/>
<circle cx="217" cy="483.6" r="3.35" fill="#0b7bb6"/>
<circle cx="230" cy="473" r="3.35" fill="#0b7bb6"/>
<circle cx="243" cy="461.4" r="3.35" fill="#0b7bb6"/>
<circle cx="258" cy="448" r="3.35" fill="#0b7bb6"/>
<circle cx="273" cy="435.6" r="3.35" fill="#0b7bb6"/>
<circle cx="289" cy="421.4" r="3.35" fill="#0b7bb6"/>
<circle cx="312.4" cy="405.6" r="3.35" fill="#0b7bb6"/>
<line x1="78" y1="604.33" x2="312.4" y2="401.65" stroke="#ed1c24" stroke-width="2.8" stroke-dasharray="6,4.5"/>
<text x="110.00" y="694.30" font-size="25.5" >10</text>
<text x="136.50" y="678.20" font-size="19.5" ><tspan font-style="italic">P</tspan>(dB)/20</text>
<text x="214.60" y="694.30" font-size="27" >(a.u.)</text>
<g transform="translate(19.3,565) rotate(-90)"><text x="0" y="0" font-size="25.5" font-style="italic">f</text><text x="6" y="5" font-size="19">Rabi</text><text x="49.5" y="0" font-size="25.5">(MHz)</text></g>
<text x="333.50" y="15.50" font-size="29" font-weight="bold" >c</text>
<rect x="578.5" y="8.6" width="72" height="41" fill="#76cde1" stroke="#1d1a1b" stroke-width="3"/>
<text x="614.60" y="36.60" font-size="22.3" text-anchor="middle" >Probe</text>
<path d="M445.7,49.5 V8.5 H496.7 V49.5" fill="#fff" stroke="#ed1c24" stroke-width="3" stroke-linejoin="round"/>
<text x="459.00" y="35.90" font-size="22" >R</text>
<path d="M475.00,16.73 H483.00 M476.92,16.73 V23.80 M481.08,16.73 V23.80" fill="none" stroke="#1d1a1b" stroke-width="1.45"/>
<text x="474.40" y="46.20" font-size="17" >x</text>
<line x1="434.00" y1="49.50" x2="658.00" y2="49.50" stroke="#1d1a1b" stroke-width="3.2" stroke-linecap="butt"/>
<polygon points="668.20,49.50 654.80,42.50 657.40,49.50 654.80,56.50" fill="#1d1a1b"/>
<line x1="505.00" y1="32.30" x2="570.00" y2="32.30" stroke="#ed1c24" stroke-width="3.2" stroke-linecap="butt"/>
<polygon points="498.90,32.30 512.10,25.05 509.40,32.30 512.10,39.55" fill="#ed1c24"/>
<polygon points="576.50,32.30 563.30,25.05 566.00,32.30 563.30,39.55" fill="#ed1c24"/>
<path d="M533.64,18.35 C533.99,16.60 535.12,15.99 536.70,15.99 L541.51,15.99 M537.75,15.99 C537.31,19.05 537.14,21.68 537.31,23.42 C537.58,25.35 539.24,25.44 540.11,24.56 C540.73,23.95 540.99,23.25 541.08,22.64" fill="none" stroke="#ed1c24" stroke-width="1.36" stroke-linecap="butt"/>
<rect x="434.2" y="62.5" width="227.4" height="200.8" fill="none" stroke="#1d1a1b" stroke-width="2.5"/>
<line x1="434.30" y1="262.00" x2="434.30" y2="273.50" stroke="#1d1a1b" stroke-width="3" stroke-linecap="butt"/>
<line x1="472.21" y1="262.00" x2="472.21" y2="268.70" stroke="#1d1a1b" stroke-width="2.2" stroke-linecap="butt"/>
<line x1="510.12" y1="262.00" x2="510.12" y2="273.50" stroke="#1d1a1b" stroke-width="3" stroke-linecap="butt"/>
<line x1="548.03" y1="262.00" x2="548.03" y2="268.70" stroke="#1d1a1b" stroke-width="2.2" stroke-linecap="butt"/>
<line x1="585.94" y1="262.00" x2="585.94" y2="273.50" stroke="#1d1a1b" stroke-width="3" stroke-linecap="butt"/>
<line x1="623.85" y1="262.00" x2="623.85" y2="268.70" stroke="#1d1a1b" stroke-width="2.2" stroke-linecap="butt"/>
<line x1="661.76" y1="262.00" x2="661.76" y2="273.50" stroke="#1d1a1b" stroke-width="3" stroke-linecap="butt"/>
<text x="434.30" y="303.20" font-size="26" text-anchor="middle" >0</text>
<text x="510.12" y="303.20" font-size="26" text-anchor="middle" >200</text>
<text x="585.94" y="303.20" font-size="26" text-anchor="middle" >400</text>
<text x="661.76" y="303.20" font-size="26" text-anchor="middle" >600</text>
<line x1="423.40" y1="263.30" x2="435.00" y2="263.30" stroke="#1d1a1b" stroke-width="3" stroke-linecap="butt"/>
<text x="418.20" y="273.70" font-size="29" text-anchor="end" >0.0</text>
<line x1="423.40" y1="213.90" x2="435.00" y2="213.90" stroke="#1d1a1b" stroke-width="3" stroke-linecap="butt"/>
<text x="418.20" y="224.30" font-size="29" text-anchor="end" >0.2</text>
<line x1="423.40" y1="164.50" x2="435.00" y2="164.50" stroke="#1d1a1b" stroke-width="3" stroke-linecap="butt"/>
<text x="418.20" y="174.90" font-size="29" text-anchor="end" >0.4</text>
<line x1="423.40" y1="115.10" x2="435.00" y2="115.10" stroke="#1d1a1b" stroke-width="3" stroke-linecap="butt"/>
<text x="418.20" y="125.50" font-size="29" text-anchor="end" >0.6</text>
<line x1="423.40" y1="65.70" x2="435.00" y2="65.70" stroke="#1d1a1b" stroke-width="3" stroke-linecap="butt"/>
<text x="418.20" y="76.10" font-size="29" text-anchor="end" >0.8</text>
<path d="M431.9 60.8h4.8v4.8h-4.8zM433.8 75.1h4.8v4.8h-4.8zM435.7 79.6h4.8v4.8h-4.8zM437.6 77.8h4.8v4.8h-4.8zM439.5 81.1h4.8v4.8h-4.8zM441.4 85.5h4.8v4.8h-4.8zM443.3 91.5h4.8v4.8h-4.8zM445.2 98.7h4.8v4.8h-4.8zM447.1 99.6h4.8v4.8h-4.8zM449.0 100.9h4.8v4.8h-4.8zM450.9 108.2h4.8v4.8h-4.8zM452.8 111.1h4.8v4.8h-4.8zM454.6 115.1h4.8v4.8h-4.8zM456.5 113.7h4.8v4.8h-4.8zM458.4 117.1h4.8v4.8h-4.8zM460.3 118.6h4.8v4.8h-4.8zM462.2 121.2h4.8v4.8h-4.8zM464.1 132.2h4.8v4.8h-4.8zM466.0 129.3h4.8v4.8h-4.8zM467.9 141.3h4.8v4.8h-4.8zM469.8 139.4h4.8v4.8h-4.8zM471.7 141.6h4.8v4.8h-4.8zM473.6 144.0h4.8v4.8h-4.8zM475.5 146.1h4.8v4.8h-4.8zM477.4 147.3h4.8v4.8h-4.8zM479.3 150.7h4.8v4.8h-4.8zM481.2 155.2h4.8v4.8h-4.8zM483.1 156.0h4.8v4.8h-4.8zM485.0 160.6h4.8v4.8h-4.8zM486.9 162.0h4.8v4.8h-4.8zM488.8 167.3h4.8v4.8h-4.8zM490.7 163.0h4.8v4.8h-4.8zM492.6 167.2h4.8v4.8h-4.8zM494.5 170.4h4.8v4.8h-4.8zM496.3 167.5h4.8v4.8h-4.8zM498.2 170.5h4.8v4.8h-4.8zM500.1 173.2h4.8v4.8h-4.8zM502.0 175.9h4.8v4.8h-4.8zM503.9 183.8h4.8v4.8h-4.8zM505.8 180.4h4.8v4.8h-4.8zM507.7 186.1h4.8v4.8h-4.8zM509.6 180.4h4.8v4.8h-4.8zM511.5 183.1h4.8v4.8h-4.8zM513.4 193.1h4.8v4.8h-4.8zM515.3 192.1h4.8v4.8h-4.8zM517.2 197.6h4.8v4.8h-4.8zM519.1 197.3h4.8v4.8h-4.8zM521.0 197.4h4.8v4.8h-4.8zM522.9 206.3h4.8v4.8h-4.8zM524.8 201.3h4.8v4.8h-4.8zM526.7 200.4h4.8v4.8h-4.8zM528.6 203.0h4.8v4.8h-4.8zM530.5 209.6h4.8v4.8h-4.8zM532.4 209.7h4.8v4.8h-4.8zM534.3 204.7h4.8v4.8h-4.8zM536.2 205.3h4.8v4.8h-4.8zM538.0 208.4h4.8v4.8h-4.8zM539.9 214.2h4.8v4.8h-4.8zM541.8 216.5h4.8v4.8h-4.8zM543.7 212.5h4.8v4.8h-4.8zM545.6 210.4h4.8v4.8h-4.8zM547.5 213.9h4.8v4.8h-4.8zM549.4 213.2h4.8v4.8h-4.8zM551.3 214.2h4.8v4.8h-4.8zM553.2 220.0h4.8v4.8h-4.8zM555.1 222.6h4.8v4.8h-4.8zM557.0 223.5h4.8v4.8h-4.8zM558.9 225.4h4.8v4.8h-4.8zM560.8 225.2h4.8v4.8h-4.8zM562.7 227.2h4.8v4.8h-4.8zM564.6 225.4h4.8v4.8h-4.8zM566.5 229.1h4.8v4.8h-4.8zM568.4 227.7h4.8v4.8h-4.8zM570.3 231.7h4.8v4.8h-4.8zM572.2 234.0h4.8v4.8h-4.8zM574.1 232.1h4.8v4.8h-4.8zM576.0 232.2h4.8v4.8h-4.8zM577.9 235.6h4.8v4.8h-4.8zM579.7 231.6h4.8v4.8h-4.8zM581.6 238.2h4.8v4.8h-4.8zM583.5 233.7h4.8v4.8h-4.8zM585.4 232.8h4.8v4.8h-4.8zM587.3 238.8h4.8v4.8h-4.8zM589.2 243.2h4.8v4.8h-4.8zM591.1 240.0h4.8v4.8h-4.8zM593.0 243.9h4.8v4.8h-4.8zM594.9 240.7h4.8v4.8h-4.8zM596.8 241.7h4.8v4.8h-4.8zM598.7 236.2h4.8v4.8h-4.8zM600.6 240.8h4.8v4.8h-4.8zM602.5 237.1h4.8v4.8h-4.8zM604.4 239.6h4.8v4.8h-4.8zM606.3 244.2h4.8v4.8h-4.8zM608.2 244.0h4.8v4.8h-4.8zM610.1 245.3h4.8v4.8h-4.8zM612.0 246.6h4.8v4.8h-4.8zM613.9 249.8h4.8v4.8h-4.8zM615.8 251.3h4.8v4.8h-4.8zM617.7 247.2h4.8v4.8h-4.8zM619.6 249.3h4.8v4.8h-4.8zM621.5 246.5h4.8v4.8h-4.8zM623.3 249.4h4.8v4.8h-4.8zM625.2 250.2h4.8v4.8h-4.8zM627.1 248.8h4.8v4.8h-4.8zM629.0 249.1h4.8v4.8h-4.8zM630.9 249.5h4.8v4.8h-4.8zM632.8 251.8h4.8v4.8h-4.8zM634.7 255.1h4.8v4.8h-4.8zM636.6 249.4h4.8v4.8h-4.8zM638.5 250.4h4.8v4.8h-4.8zM640.4 250.1h4.8v4.8h-4.8zM642.3 247.4h4.8v4.8h-4.8zM644.2 250.9h4.8v4.8h-4.8zM646.1 253.3h4.8v4.8h-4.8zM648.0 255.4h4.8v4.8h-4.8zM649.9 260.9h4.8v4.8h-4.8zM651.8 257.8h4.8v4.8h-4.8zM653.7 256.7h4.8v4.8h-4.8zM655.6 255.1h4.8v4.8h-4.8zM657.5 258.9h4.8v4.8h-4.8zM659.4 260.9h4.8v4.8h-4.8z" fill="#0b7bb6"/>
<polyline points="434.30,69.65 436.20,74.02 438.09,78.30 439.99,82.48 441.88,86.57 443.78,90.58 445.67,94.50 447.57,98.33 449.46,102.08 451.36,105.75 453.25,109.35 455.15,112.86 457.05,116.30 458.94,119.67 460.84,122.96 462.73,126.18 464.63,129.34 466.52,132.42 468.42,135.44 470.31,138.39 472.21,141.28 474.11,144.11 476.00,146.88 477.90,149.59 479.79,152.24 481.69,154.83 483.58,157.37 485.48,159.85 487.37,162.28 489.27,164.66 491.17,166.98 493.06,169.26 494.96,171.48 496.85,173.66 498.75,175.80 500.64,177.88 502.54,179.92 504.43,181.92 506.33,183.88 508.22,185.79 510.12,187.66 512.02,189.49 513.91,191.28 515.81,193.04 517.70,194.75 519.60,196.43 521.49,198.07 523.39,199.68 525.28,201.25 527.18,202.79 529.08,204.30 530.97,205.77 532.87,207.21 534.76,208.62 536.66,210.00 538.55,211.35 540.45,212.67 542.34,213.97 544.24,215.23 546.13,216.47 548.03,217.68 549.93,218.87 551.82,220.03 553.72,221.16 555.61,222.27 557.51,223.36 559.40,224.42 561.30,225.46 563.19,226.48 565.09,227.48 566.99,228.45 568.88,229.41 570.78,230.34 572.67,231.25 574.57,232.15 576.46,233.02 578.36,233.88 580.25,234.72 582.15,235.53 584.04,236.34 585.94,237.12 587.84,237.89 589.73,238.64 591.63,239.37 593.52,240.09 595.42,240.80 597.31,241.48 599.21,242.16 601.10,242.82 603.00,243.46 604.89,244.09 606.79,244.71 608.69,245.32 610.58,245.91 612.48,246.48 614.37,247.05 616.27,247.60 618.16,248.15 620.06,248.68 621.95,249.20 623.85,249.70 625.75,250.20 627.64,250.69 629.54,251.16 631.43,251.63 633.33,252.08 635.22,252.53 637.12,252.97 639.01,253.39 640.91,253.81 642.81,254.22 644.70,254.62 646.60,255.01 648.49,255.39 650.39,255.77 652.28,256.13 654.18,256.49 656.07,256.84 657.97,257.19 659.86,257.52 661.76,257.85" fill="none" stroke="#ed1c24" stroke-width="3.6"/>
<text x="536.70" y="93.90" font-size="25.5" font-style="italic" >T</text>
<text x="551.60" y="103.30" font-size="20" >1</text>
<text x="560.00" y="93.90" font-size="25.5" >~230 ns</text>
<path d="M516.13,319.44 C516.56,317.31 517.95,316.56 519.87,316.56 L525.73,316.56 M521.15,316.56 C520.61,320.29 520.40,323.49 520.61,325.63 C520.93,327.97 522.96,328.08 524.03,327.01 C524.77,326.27 525.09,325.41 525.20,324.67" fill="none" stroke="#1d1a1b" stroke-width="1.65" stroke-linecap="butt"/>
<text x="536.00" y="327.60" font-size="26" >(ns)</text>
<g transform="translate(352.6,187.5) rotate(-90)"><text x="0" y="0" font-family="'Liberation Serif', serif" font-size="30" font-style="italic">P</text><text x="24" y="4.6" font-family="'Liberation Serif', serif" font-size="18">1</text></g>
<line x1="342.50" y1="167.50" x2="361.20" y2="167.50" stroke="#1d1a1b" stroke-width="1.3" stroke-linecap="butt"/>
<polyline points="342.3,153.5 351.8,148.8 361.3,153.5" fill="none" stroke="#1d1a1b" stroke-width="1.3"/>
<text x="346.50" y="380.50" font-size="29.5" font-weight="bold" >d</text>
<rect x="595.5" y="346.3" width="70.6" height="40.2" fill="#76cde1" stroke="#1d1a1b" stroke-width="3"/>
<text x="631.30" y="373.00" font-size="22.3" text-anchor="middle" >Probe</text>
<path d="M413.8,386.5 V346.3 H456.3 V386.5" fill="#fff" stroke="#ed1c24" stroke-width="3" stroke-linejoin="round"/>
<text x="417.30" y="373.40" font-size="22" >R</text>
<path d="M431.50,353.73 H440.30 M433.61,353.73 V361.80 M438.19,353.73 V361.80" fill="none" stroke="#1d1a1b" stroke-width="1.45"/>
<text x="440.40" y="361.80" font-size="16" >/2</text>
<text x="431.80" y="383.00" font-size="17" >x</text>
<path d="M551.4,386.5 V346.3 H595.5 V386.5" fill="#fff" stroke="#ed1c24" stroke-width="3" stroke-linejoin="round"/>
<text x="554.90" y="373.40" font-size="22" >R</text>
<path d="M569.10,353.73 H577.90 M571.21,353.73 V361.80 M575.79,353.73 V361.80" fill="none" stroke="#1d1a1b" stroke-width="1.45"/>
<text x="578.00" y="361.80" font-size="16" >/2</text>
<text x="569.40" y="383.00" font-size="17" >x</text>
<line x1="405.00" y1="386.50" x2="673.00" y2="386.50" stroke="#1d1a1b" stroke-width="3.2" stroke-linecap="butt"/>
<polygon points="684.30,386.50 670.90,379.50 673.50,386.50 670.90,393.50" fill="#1d1a1b"/>
<line x1="465.00" y1="369.70" x2="543.00" y2="369.70" stroke="#ed1c24" stroke-width="3.2" stroke-linecap="butt"/>
<polygon points="458.50,369.70 471.70,362.45 469.00,369.70 471.70,376.95" fill="#ed1c24"/>
<polygon points="549.30,369.70 536.10,362.45 538.80,369.70 536.10,376.95" fill="#ed1c24"/>
<path d="M469.03,346.46 C469.37,344.76 470.47,344.16 472.00,344.16 L476.68,344.16 M473.02,344.16 C472.60,347.14 472.43,349.69 472.60,351.39 C472.85,353.26 474.47,353.34 475.31,352.50 C475.91,351.90 476.17,351.22 476.25,350.62" fill="none" stroke="#ed1c24" stroke-width="1.32" stroke-linecap="butt"/>
<text x="479.00" y="358.70" font-size="14" fill="#ed1c24" textLength="58" lengthAdjust="spacingAndGlyphs">Ramsey</text>
<rect x="435.8" y="397.2" width="227.6" height="214.8" fill="none" stroke="#1d1a1b" stroke-width="2.5"/>
<line x1="435.60" y1="611.00" x2="435.60" y2="622.60" stroke="#1d1a1b" stroke-width="3" stroke-linecap="butt"/>
<line x1="467.21" y1="611.00" x2="467.21" y2="618.20" stroke="#1d1a1b" stroke-width="2.2" stroke-linecap="butt"/>
<line x1="498.82" y1="611.00" x2="498.82" y2="622.60" stroke="#1d1a1b" stroke-width="3" stroke-linecap="butt"/>
<line x1="530.43" y1="611.00" x2="530.43" y2="618.20" stroke="#1d1a1b" stroke-width="2.2" stroke-linecap="butt"/>
<line x1="562.04" y1="611.00" x2="562.04" y2="622.60" stroke="#1d1a1b" stroke-width="3" stroke-linecap="butt"/>
<line x1="593.65" y1="611.00" x2="593.65" y2="618.20" stroke="#1d1a1b" stroke-width="2.2" stroke-linecap="butt"/>
<line x1="625.26" y1="611.00" x2="625.26" y2="622.60" stroke="#1d1a1b" stroke-width="3" stroke-linecap="butt"/>
<line x1="656.87" y1="611.00" x2="656.87" y2="618.20" stroke="#1d1a1b" stroke-width="2.2" stroke-linecap="butt"/>
<text x="435.60" y="652.50" font-size="26" text-anchor="middle" >0</text>
<text x="498.82" y="652.50" font-size="26" text-anchor="middle" >20</text>
<text x="562.04" y="652.50" font-size="26" text-anchor="middle" >40</text>
<text x="625.26" y="652.50" font-size="26" text-anchor="middle" >60</text>
<line x1="430.00" y1="402.82" x2="436.00" y2="402.82" stroke="#1d1a1b" stroke-width="2.2" stroke-linecap="butt"/>
<line x1="430.00" y1="424.95" x2="436.00" y2="424.95" stroke="#1d1a1b" stroke-width="2.2" stroke-linecap="butt"/>
<line x1="430.00" y1="447.07" x2="436.00" y2="447.07" stroke="#1d1a1b" stroke-width="2.2" stroke-linecap="butt"/>
<line x1="425.00" y1="469.20" x2="436.00" y2="469.20" stroke="#1d1a1b" stroke-width="3" stroke-linecap="butt"/>
<text x="419.00" y="478.40" font-size="26" text-anchor="end" >0.64</text>
<line x1="430.00" y1="491.32" x2="436.00" y2="491.32" stroke="#1d1a1b" stroke-width="2.2" stroke-linecap="butt"/>
<line x1="430.00" y1="513.45" x2="436.00" y2="513.45" stroke="#1d1a1b" stroke-width="2.2" stroke-linecap="butt"/>
<line x1="430.00" y1="535.58" x2="436.00" y2="535.58" stroke="#1d1a1b" stroke-width="2.2" stroke-linecap="butt"/>
<line x1="425.00" y1="557.70" x2="436.00" y2="557.70" stroke="#1d1a1b" stroke-width="3" stroke-linecap="butt"/>
<text x="419.00" y="566.90" font-size="26" text-anchor="end" >0.62</text>
<line x1="430.00" y1="579.83" x2="436.00" y2="579.83" stroke="#1d1a1b" stroke-width="2.2" stroke-linecap="butt"/>
<line x1="430.00" y1="601.95" x2="436.00" y2="601.95" stroke="#1d1a1b" stroke-width="2.2" stroke-linecap="butt"/>
<circle cx="434.8" cy="434.6" r="3.2" fill="#0b7bb6"/>
<circle cx="444.5" cy="447.4" r="3.2" fill="#0b7bb6"/>
<circle cx="454.1" cy="505" r="3.2" fill="#0b7bb6"/>
<circle cx="463.8" cy="573.6" r="3.2" fill="#0b7bb6"/>
<circle cx="473.4" cy="604.8" r="3.2" fill="#0b7bb6"/>
<circle cx="483.1" cy="522.7" r="3.2" fill="#0b7bb6"/>
<circle cx="492.7" cy="506.6" r="3.2" fill="#0b7bb6"/>
<circle cx="501.4" cy="445.8" r="3.2" fill="#0b7bb6"/>
<circle cx="511.1" cy="404.7" r="3.2" fill="#0b7bb6"/>
<circle cx="521" cy="467.4" r="3.2" fill="#0b7bb6"/>
<circle cx="530.4" cy="486.7" r="3.2" fill="#0b7bb6"/>
<circle cx="540" cy="531.7" r="3.2" fill="#0b7bb6"/>
<circle cx="549.7" cy="531.7" r="3.2" fill="#0b7bb6"/>
<circle cx="558.7" cy="530.8" r="3.2" fill="#0b7bb6"/>
<circle cx="568.3" cy="493.1" r="3.2" fill="#0b7bb6"/>
<circle cx="577.6" cy="494.7" r="3.2" fill="#0b7bb6"/>
<circle cx="587.3" cy="448.7" r="3.2" fill="#0b7bb6"/>
<circle cx="597" cy="506" r="3.2" fill="#0b7bb6"/>
<circle cx="606.3" cy="510.2" r="3.2" fill="#0b7bb6"/>
<circle cx="615.6" cy="511.5" r="3.2" fill="#0b7bb6"/>
<circle cx="625.3" cy="522.1" r="3.2" fill="#0b7bb6"/>
<circle cx="634.6" cy="508.3" r="3.2" fill="#0b7bb6"/>
<circle cx="643.9" cy="490.9" r="3.2" fill="#0b7bb6"/>
<circle cx="653.6" cy="502.8" r="3.2" fill="#0b7bb6"/>
<circle cx="663.2" cy="500.2" r="3.2" fill="#0b7bb6"/>
<polyline points="435.60,413.70 445.08,452.30 454.57,501.00 464.05,567.00 473.53,581.00 483.02,549.40 492.50,488.30 501.98,446.50 511.46,435.20 520.95,461.00 530.43,504.40 539.91,536.60 549.40,543.60 558.88,535.00 568.36,505.00 577.85,479.30 587.33,473.80 596.81,485.00 606.29,501.20 615.78,510.80 625.26,513.40 634.74,508.30 644.23,501.20 653.71,496.40 663.19,495.40" fill="none" stroke="#ed1c24" stroke-width="3.6" stroke-linejoin="round"/>
<text x="550.90" y="592.90" font-size="25.5" font-style="italic" >T</text>
<text x="565.00" y="602.90" font-size="20" >2</text>
<text x="565.20" y="586.60" font-size="23" >*</text>
<text x="575.50" y="592.90" font-size="25.5" >~39 ns</text>
<path d="M495.51,680.96 C495.92,678.93 497.24,678.21 499.07,678.21 L504.66,678.21 M500.29,678.21 C499.78,681.77 499.57,684.82 499.78,686.86 C500.08,689.09 502.01,689.19 503.03,688.18 C503.74,687.47 504.05,686.65 504.15,685.94" fill="none" stroke="#1d1a1b" stroke-width="1.58" stroke-linecap="butt"/>
<text x="509.00" y="693.90" font-size="19" >Ramsey</text>
<text x="581.50" y="688.20" font-size="26" >(ns)</text>
<g transform="translate(354.9,559.8) rotate(-90)"><text x="0" y="0" font-size="26">S</text><text x="20" y="4.6" font-size="17">11</text><text x="47.5" y="0" font-size="26">(a.u.)</text></g>
<line x1="333.50" y1="560.20" x2="363.50" y2="560.20" stroke="#1d1a1b" stroke-width="2" stroke-linecap="butt"/>
<line x1="333.50" y1="518.20" x2="363.50" y2="518.20" stroke="#1d1a1b" stroke-width="2" stroke-linecap="butt"/>
</svg>
</body></html>
